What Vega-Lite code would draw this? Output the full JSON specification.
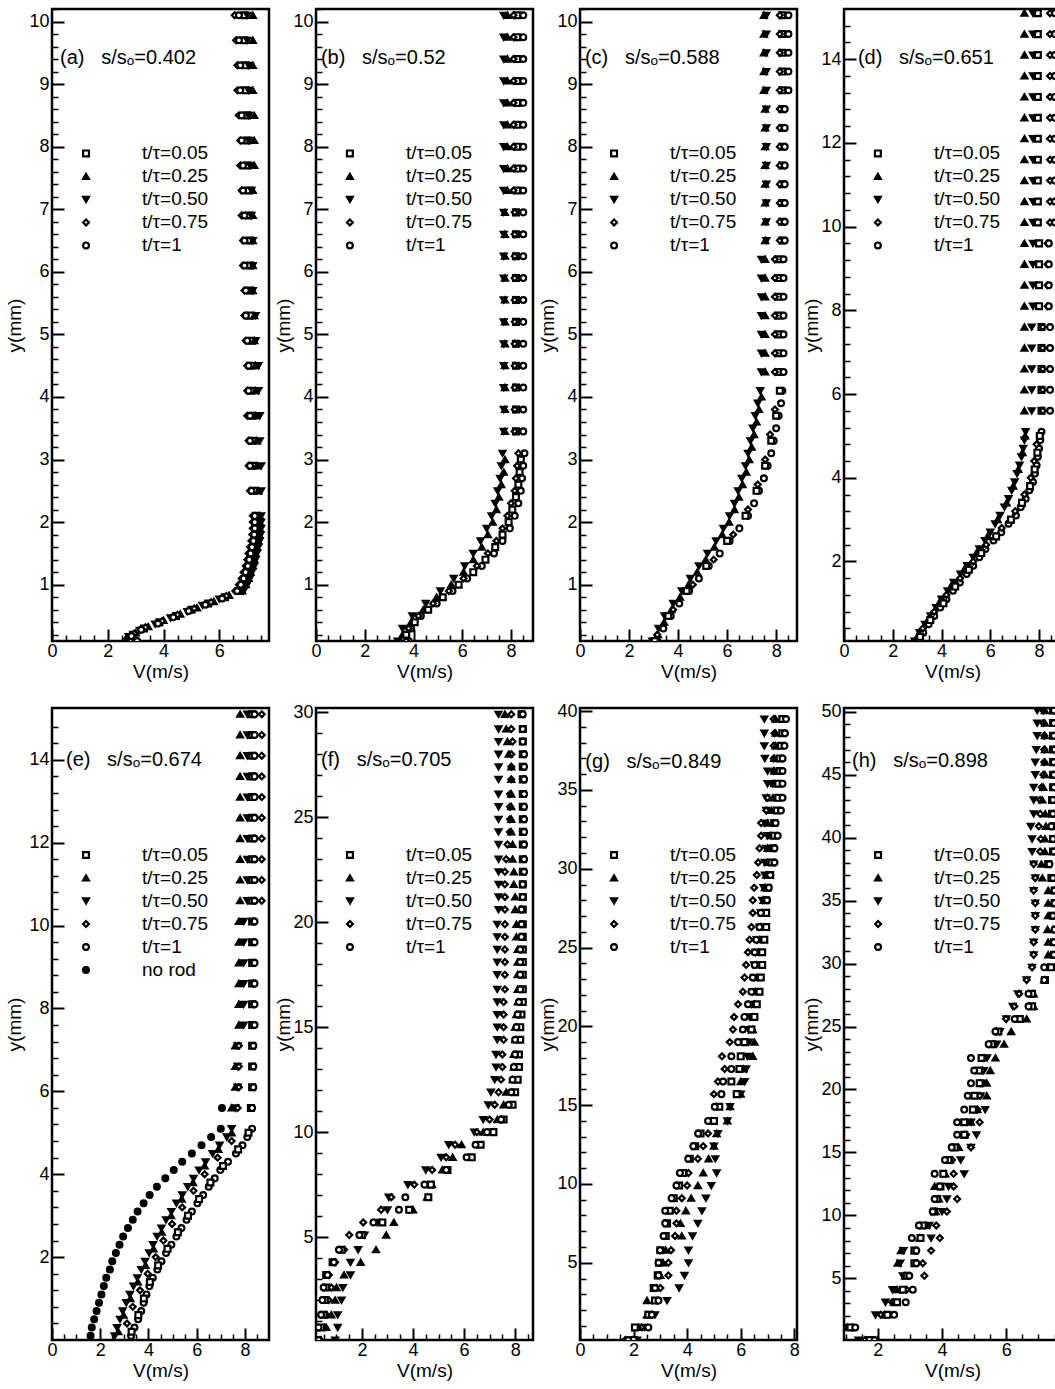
{
"$schema":"https://vega.github.io/schema/vega-lite/v6.json",
"background":"white",
"padding":{"left":3,"top":7,"right":0,"bottom":0},
"columns":4,
"spacing":{"row":67,"column":47},
"bounds":"flush",
"config":{
 "font":"Liberation Sans",
 "view":{"stroke":"black","strokeWidth":2.5},
 "axis":{"domain":false,"grid":false,"labelFont":"Liberation Sans","labelFontSize":18,"labelColor":"black","tickColor":"black","titleFont":"Liberation Sans","titleFontSize":19,"titleFontWeight":"normal","titleColor":"black","labelFlush":false,"labelOverlap":false}
},
"resolve":{"scale":{"shape":"independent","fill":"independent","size":"independent"}},
"datasets":{
"lg":[{"s":1,"t":"t/τ=0.05"},{"s":2,"t":"t/τ=0.25"},{"s":3,"t":"t/τ=0.50"},{"s":4,"t":"t/τ=0.75"},{"s":5,"t":"t/τ=1"},{"s":6,"t":"no rod"}],
"a":[
{"s":1,"v":6.9,"y":10.1},{"s":2,"v":7.2,"y":10.1},{"s":3,"v":7.0,"y":10.1},{"s":4,"v":6.55,"y":10.1},{"s":5,"v":6.7,"y":10.1},
{"s":1,"v":6.9,"y":9.7},{"s":2,"v":7.2,"y":9.7},{"s":3,"v":7.0,"y":9.7},{"s":4,"v":6.6,"y":9.7},{"s":5,"v":6.7,"y":9.7},
{"s":1,"v":6.95,"y":9.3},{"s":2,"v":7.2,"y":9.3},{"s":3,"v":7.05,"y":9.3},{"s":4,"v":6.65,"y":9.3},{"s":5,"v":6.75,"y":9.3},
{"s":1,"v":6.95,"y":8.9},{"s":2,"v":7.2,"y":8.9},{"s":3,"v":7.05,"y":8.9},{"s":4,"v":6.65,"y":8.9},{"s":5,"v":6.75,"y":8.9},
{"s":1,"v":7.0,"y":8.5},{"s":2,"v":7.25,"y":8.5},{"s":3,"v":7.05,"y":8.5},{"s":4,"v":6.7,"y":8.5},{"s":5,"v":6.8,"y":8.5},
{"s":1,"v":7.0,"y":8.1},{"s":2,"v":7.25,"y":8.1},{"s":3,"v":7.05,"y":8.1},{"s":4,"v":6.75,"y":8.1},{"s":5,"v":6.8,"y":8.1},
{"s":1,"v":7.0,"y":7.7},{"s":2,"v":7.25,"y":7.7},{"s":3,"v":7.1,"y":7.7},{"s":4,"v":6.75,"y":7.7},{"s":5,"v":6.85,"y":7.7},
{"s":1,"v":7.05,"y":7.3},{"s":2,"v":7.2,"y":7.3},{"s":3,"v":7.15,"y":7.3},{"s":4,"v":6.8,"y":7.3},{"s":5,"v":6.85,"y":7.3},
{"s":1,"v":7.05,"y":6.9},{"s":2,"v":7.2,"y":6.9},{"s":3,"v":7.15,"y":6.9},{"s":4,"v":6.8,"y":6.9},{"s":5,"v":6.9,"y":6.9},
{"s":1,"v":7.1,"y":6.5},{"s":2,"v":7.2,"y":6.5},{"s":3,"v":7.2,"y":6.5},{"s":4,"v":6.85,"y":6.5},{"s":5,"v":6.9,"y":6.5},
{"s":1,"v":7.1,"y":6.1},{"s":2,"v":7.2,"y":6.1},{"s":3,"v":7.2,"y":6.1},{"s":4,"v":6.85,"y":6.1},{"s":5,"v":6.9,"y":6.1},
{"s":1,"v":7.1,"y":5.7},{"s":2,"v":7.2,"y":5.7},{"s":3,"v":7.2,"y":5.7},{"s":4,"v":6.9,"y":5.7},{"s":5,"v":6.95,"y":5.7},
{"s":1,"v":7.1,"y":5.3},{"s":2,"v":7.25,"y":5.3},{"s":3,"v":7.3,"y":5.3},{"s":4,"v":6.9,"y":5.3},{"s":5,"v":6.95,"y":5.3},
{"s":1,"v":7.15,"y":4.9},{"s":2,"v":7.25,"y":4.9},{"s":3,"v":7.3,"y":4.9},{"s":4,"v":6.95,"y":4.9},{"s":5,"v":7.0,"y":4.9},
{"s":1,"v":7.15,"y":4.5},{"s":2,"v":7.3,"y":4.5},{"s":3,"v":7.4,"y":4.5},{"s":4,"v":7.0,"y":4.5},{"s":5,"v":7.05,"y":4.5},
{"s":1,"v":7.15,"y":4.1},{"s":2,"v":7.3,"y":4.1},{"s":3,"v":7.4,"y":4.1},{"s":4,"v":7.0,"y":4.1},{"s":5,"v":7.05,"y":4.1},
{"s":1,"v":7.2,"y":3.7},{"s":2,"v":7.3,"y":3.7},{"s":3,"v":7.45,"y":3.7},{"s":4,"v":7.0,"y":3.7},{"s":5,"v":7.1,"y":3.7},
{"s":1,"v":7.2,"y":3.3},{"s":2,"v":7.35,"y":3.3},{"s":3,"v":7.45,"y":3.3},{"s":4,"v":7.05,"y":3.3},{"s":5,"v":7.1,"y":3.3},
{"s":1,"v":7.2,"y":2.9},{"s":2,"v":7.35,"y":2.9},{"s":3,"v":7.5,"y":2.9},{"s":4,"v":7.05,"y":2.9},{"s":5,"v":7.1,"y":2.9},
{"s":1,"v":7.25,"y":2.5},{"s":2,"v":7.4,"y":2.5},{"s":3,"v":7.5,"y":2.5},{"s":4,"v":7.1,"y":2.5},{"s":5,"v":7.15,"y":2.5},
{"s":1,"v":7.35,"y":2.1},{"s":2,"v":7.45,"y":2.1},{"s":3,"v":7.5,"y":2.1},{"s":4,"v":7.2,"y":2.1},{"s":5,"v":7.27,"y":2.1},
{"s":1,"v":7.35,"y":2.0},{"s":2,"v":7.45,"y":2.0},{"s":3,"v":7.5,"y":2.0},{"s":4,"v":7.2,"y":2.0},{"s":5,"v":7.27,"y":2.0},
{"s":1,"v":7.35,"y":1.9},{"s":2,"v":7.45,"y":1.9},{"s":3,"v":7.5,"y":1.9},{"s":4,"v":7.2,"y":1.9},{"s":5,"v":7.27,"y":1.9},
{"s":1,"v":7.33,"y":1.8},{"s":2,"v":7.43,"y":1.8},{"s":3,"v":7.48,"y":1.8},{"s":4,"v":7.18,"y":1.8},{"s":5,"v":7.25,"y":1.8},
{"s":1,"v":7.3,"y":1.7},{"s":2,"v":7.4,"y":1.7},{"s":3,"v":7.45,"y":1.7},{"s":4,"v":7.15,"y":1.7},{"s":5,"v":7.22,"y":1.7},
{"s":1,"v":7.25,"y":1.6},{"s":2,"v":7.35,"y":1.6},{"s":3,"v":7.4,"y":1.6},{"s":4,"v":7.1,"y":1.6},{"s":5,"v":7.17,"y":1.6},
{"s":1,"v":7.2,"y":1.5},{"s":2,"v":7.3,"y":1.5},{"s":3,"v":7.35,"y":1.5},{"s":4,"v":7.05,"y":1.5},{"s":5,"v":7.12,"y":1.5},
{"s":1,"v":7.15,"y":1.4},{"s":2,"v":7.25,"y":1.4},{"s":3,"v":7.3,"y":1.4},{"s":4,"v":7.0,"y":1.4},{"s":5,"v":7.07,"y":1.4},
{"s":1,"v":7.1,"y":1.3},{"s":2,"v":7.2,"y":1.3},{"s":3,"v":7.25,"y":1.3},{"s":4,"v":6.95,"y":1.3},{"s":5,"v":7.02,"y":1.3},
{"s":1,"v":7.02,"y":1.2},{"s":2,"v":7.12,"y":1.2},{"s":3,"v":7.17,"y":1.2},{"s":4,"v":6.87,"y":1.2},{"s":5,"v":6.94,"y":1.2},
{"s":1,"v":6.95,"y":1.1},{"s":2,"v":7.05,"y":1.1},{"s":3,"v":7.1,"y":1.1},{"s":4,"v":6.8,"y":1.1},{"s":5,"v":6.87,"y":1.1},
{"s":1,"v":6.85,"y":1.0},{"s":2,"v":6.95,"y":1.0},{"s":3,"v":7.0,"y":1.0},{"s":4,"v":6.7,"y":1.0},{"s":5,"v":6.77,"y":1.0},
{"s":1,"v":6.72,"y":0.9},{"s":2,"v":6.82,"y":0.9},{"s":3,"v":6.87,"y":0.9},{"s":4,"v":6.57,"y":0.9},{"s":5,"v":6.64,"y":0.9},
{"s":1,"v":6.2,"y":0.8},{"s":1,"v":5.6,"y":0.7},{"s":1,"v":5.0,"y":0.6},{"s":1,"v":4.45,"y":0.5},{"s":1,"v":3.85,"y":0.4},{"s":1,"v":3.3,"y":0.3},{"s":1,"v":2.9,"y":0.2},{"s":1,"v":2.8,"y":0.12},
{"s":2,"v":6.35,"y":0.83},{"s":2,"v":5.8,"y":0.73},{"s":2,"v":5.2,"y":0.63},{"s":2,"v":4.6,"y":0.53},{"s":2,"v":4.0,"y":0.43},{"s":2,"v":3.45,"y":0.33},{"s":2,"v":3.0,"y":0.23},{"s":2,"v":2.65,"y":0.14},
{"s":3,"v":6.0,"y":0.77},{"s":3,"v":5.4,"y":0.67},{"s":3,"v":4.85,"y":0.57},{"s":3,"v":4.25,"y":0.47},{"s":3,"v":3.7,"y":0.37},{"s":3,"v":3.15,"y":0.27},{"s":3,"v":2.75,"y":0.17},{"s":3,"v":2.95,"y":0.1},
{"s":4,"v":6.25,"y":0.82},{"s":4,"v":5.7,"y":0.72},{"s":4,"v":5.1,"y":0.62},{"s":4,"v":4.5,"y":0.52},{"s":4,"v":3.95,"y":0.42},{"s":4,"v":3.35,"y":0.32},{"s":4,"v":2.95,"y":0.22},{"s":4,"v":3.0,"y":0.12},
{"s":5,"v":6.1,"y":0.78},{"s":5,"v":5.5,"y":0.68},{"s":5,"v":4.9,"y":0.58},{"s":5,"v":4.35,"y":0.48},{"s":5,"v":3.8,"y":0.38},{"s":5,"v":3.2,"y":0.28},{"s":5,"v":2.85,"y":0.18},{"s":5,"v":3.05,"y":0.1}
],
"b":[
{"s":1,"v":8.25,"y":10.1},{"s":2,"v":7.85,"y":10.1},{"s":3,"v":7.7,"y":10.1},{"s":4,"v":8.1,"y":10.1},{"s":5,"v":8.5,"y":10.1},
{"s":1,"v":8.25,"y":9.75},{"s":2,"v":7.85,"y":9.75},{"s":3,"v":7.7,"y":9.75},{"s":4,"v":8.1,"y":9.75},{"s":5,"v":8.5,"y":9.75},
{"s":1,"v":8.25,"y":9.4},{"s":2,"v":7.85,"y":9.4},{"s":3,"v":7.7,"y":9.4},{"s":4,"v":8.1,"y":9.4},{"s":5,"v":8.5,"y":9.4},
{"s":1,"v":8.25,"y":9.05},{"s":2,"v":7.85,"y":9.05},{"s":3,"v":7.7,"y":9.05},{"s":4,"v":8.1,"y":9.05},{"s":5,"v":8.5,"y":9.05},
{"s":1,"v":8.25,"y":8.7},{"s":2,"v":7.85,"y":8.7},{"s":3,"v":7.7,"y":8.7},{"s":4,"v":8.1,"y":8.7},{"s":5,"v":8.5,"y":8.7},
{"s":1,"v":8.25,"y":8.35},{"s":2,"v":7.85,"y":8.35},{"s":3,"v":7.7,"y":8.35},{"s":4,"v":8.1,"y":8.35},{"s":5,"v":8.5,"y":8.35},
{"s":1,"v":8.25,"y":8.0},{"s":2,"v":7.85,"y":8.0},{"s":3,"v":7.7,"y":8.0},{"s":4,"v":8.1,"y":8.0},{"s":5,"v":8.5,"y":8.0},
{"s":1,"v":8.25,"y":7.65},{"s":2,"v":7.85,"y":7.65},{"s":3,"v":7.7,"y":7.65},{"s":4,"v":8.1,"y":7.65},{"s":5,"v":8.5,"y":7.65},
{"s":1,"v":8.25,"y":7.3},{"s":2,"v":7.85,"y":7.3},{"s":3,"v":7.7,"y":7.3},{"s":4,"v":8.1,"y":7.3},{"s":5,"v":8.5,"y":7.3},
{"s":1,"v":8.2,"y":6.95},{"s":2,"v":7.75,"y":6.95},{"s":3,"v":7.7,"y":6.95},{"s":4,"v":8.15,"y":6.95},{"s":5,"v":8.5,"y":6.95},
{"s":1,"v":8.2,"y":6.6},{"s":2,"v":7.75,"y":6.6},{"s":3,"v":7.7,"y":6.6},{"s":4,"v":8.15,"y":6.6},{"s":5,"v":8.5,"y":6.6},
{"s":1,"v":8.2,"y":6.25},{"s":2,"v":7.75,"y":6.25},{"s":3,"v":7.7,"y":6.25},{"s":4,"v":8.15,"y":6.25},{"s":5,"v":8.5,"y":6.25},
{"s":1,"v":8.2,"y":5.9},{"s":2,"v":7.75,"y":5.9},{"s":3,"v":7.7,"y":5.9},{"s":4,"v":8.15,"y":5.9},{"s":5,"v":8.5,"y":5.9},
{"s":1,"v":8.2,"y":5.55},{"s":2,"v":7.75,"y":5.55},{"s":3,"v":7.7,"y":5.55},{"s":4,"v":8.15,"y":5.55},{"s":5,"v":8.5,"y":5.55},
{"s":1,"v":8.2,"y":5.2},{"s":2,"v":7.75,"y":5.2},{"s":3,"v":7.7,"y":5.2},{"s":4,"v":8.15,"y":5.2},{"s":5,"v":8.5,"y":5.2},
{"s":1,"v":8.2,"y":4.85},{"s":2,"v":7.75,"y":4.85},{"s":3,"v":7.7,"y":4.85},{"s":4,"v":8.15,"y":4.85},{"s":5,"v":8.5,"y":4.85},
{"s":1,"v":8.2,"y":4.5},{"s":2,"v":7.75,"y":4.5},{"s":3,"v":7.7,"y":4.5},{"s":4,"v":8.15,"y":4.5},{"s":5,"v":8.5,"y":4.5},
{"s":1,"v":8.2,"y":4.15},{"s":2,"v":7.75,"y":4.15},{"s":3,"v":7.7,"y":4.15},{"s":4,"v":8.15,"y":4.15},{"s":5,"v":8.5,"y":4.15},
{"s":1,"v":8.2,"y":3.8},{"s":2,"v":7.75,"y":3.8},{"s":3,"v":7.7,"y":3.8},{"s":4,"v":8.15,"y":3.8},{"s":5,"v":8.5,"y":3.8},
{"s":1,"v":8.2,"y":3.45},{"s":2,"v":7.75,"y":3.45},{"s":3,"v":7.7,"y":3.45},{"s":4,"v":8.15,"y":3.45},{"s":5,"v":8.5,"y":3.45},
{"s":3,"v":7.65,"y":3.1},{"s":3,"v":7.6,"y":2.9},{"s":3,"v":7.55,"y":2.7},{"s":3,"v":7.45,"y":2.5},{"s":3,"v":7.35,"y":2.3},{"s":3,"v":7.2,"y":2.1},{"s":3,"v":7.0,"y":1.9},{"s":3,"v":6.75,"y":1.7},{"s":3,"v":6.45,"y":1.5},{"s":3,"v":6.1,"y":1.3},{"s":3,"v":5.65,"y":1.1},{"s":3,"v":5.1,"y":0.9},{"s":3,"v":4.5,"y":0.7},{"s":3,"v":3.95,"y":0.5},{"s":3,"v":3.55,"y":0.3},{"s":3,"v":3.35,"y":0.1},
{"s":5,"v":8.55,"y":3.1},{"s":5,"v":8.5,"y":2.9},{"s":5,"v":8.45,"y":2.7},{"s":5,"v":8.4,"y":2.5},{"s":5,"v":8.3,"y":2.3},{"s":5,"v":8.15,"y":2.1},{"s":5,"v":7.95,"y":1.9},{"s":5,"v":7.65,"y":1.7},{"s":5,"v":7.3,"y":1.5},{"s":5,"v":6.8,"y":1.3},{"s":5,"v":6.2,"y":1.1},{"s":5,"v":5.6,"y":0.9},{"s":5,"v":4.95,"y":0.7},{"s":5,"v":4.3,"y":0.5},{"s":5,"v":3.9,"y":0.3},{"s":5,"v":3.8,"y":0.1},
{"s":4,"v":8.3,"y":3.1},{"s":4,"v":8.25,"y":2.9},{"s":4,"v":8.2,"y":2.7},{"s":4,"v":8.15,"y":2.5},{"s":4,"v":8.0,"y":2.3},{"s":4,"v":7.85,"y":2.1},{"s":4,"v":7.65,"y":1.9},{"s":4,"v":7.4,"y":1.7},{"s":4,"v":7.05,"y":1.5},{"s":4,"v":6.6,"y":1.3},{"s":4,"v":6.05,"y":1.1},{"s":4,"v":5.45,"y":0.9},{"s":4,"v":4.8,"y":0.7},{"s":4,"v":4.2,"y":0.5},{"s":4,"v":3.8,"y":0.3},{"s":4,"v":3.7,"y":0.1},
{"s":2,"v":7.75,"y":3.0},{"s":2,"v":7.7,"y":2.8},{"s":2,"v":7.6,"y":2.6},{"s":2,"v":7.5,"y":2.4},{"s":2,"v":7.4,"y":2.2},{"s":2,"v":7.25,"y":2.0},{"s":2,"v":7.05,"y":1.8},{"s":2,"v":6.8,"y":1.6},{"s":2,"v":6.45,"y":1.4},{"s":2,"v":6.05,"y":1.2},{"s":2,"v":5.55,"y":1.0},{"s":2,"v":4.95,"y":0.8},{"s":2,"v":4.4,"y":0.6},{"s":2,"v":3.9,"y":0.4},{"s":2,"v":3.55,"y":0.2},
{"s":1,"v":8.4,"y":3.0},{"s":1,"v":8.35,"y":2.8},{"s":1,"v":8.3,"y":2.6},{"s":1,"v":8.2,"y":2.4},{"s":1,"v":8.05,"y":2.2},{"s":1,"v":7.9,"y":2.0},{"s":1,"v":7.65,"y":1.8},{"s":1,"v":7.35,"y":1.6},{"s":1,"v":6.95,"y":1.4},{"s":1,"v":6.45,"y":1.2},{"s":1,"v":5.85,"y":1.0},{"s":1,"v":5.2,"y":0.8},{"s":1,"v":4.6,"y":0.6},{"s":1,"v":4.05,"y":0.4},{"s":1,"v":3.7,"y":0.2}
],
"c":[
{"s":1,"v":8.25,"y":10.1},{"s":2,"v":7.5,"y":10.1},{"s":3,"v":7.6,"y":10.1},{"s":4,"v":8.15,"y":10.1},{"s":5,"v":8.5,"y":10.1},
{"s":1,"v":8.25,"y":9.8},{"s":2,"v":7.5,"y":9.8},{"s":3,"v":7.6,"y":9.8},{"s":4,"v":8.15,"y":9.8},{"s":5,"v":8.5,"y":9.8},
{"s":1,"v":8.25,"y":9.5},{"s":2,"v":7.5,"y":9.5},{"s":3,"v":7.6,"y":9.5},{"s":4,"v":8.15,"y":9.5},{"s":5,"v":8.5,"y":9.5},
{"s":1,"v":8.25,"y":9.2},{"s":2,"v":7.5,"y":9.2},{"s":3,"v":7.6,"y":9.2},{"s":4,"v":8.15,"y":9.2},{"s":5,"v":8.5,"y":9.2},
{"s":1,"v":8.25,"y":8.9},{"s":2,"v":7.5,"y":8.9},{"s":3,"v":7.6,"y":8.9},{"s":4,"v":8.15,"y":8.9},{"s":5,"v":8.5,"y":8.9},
{"s":1,"v":8.25,"y":8.6},{"s":2,"v":7.55,"y":8.6},{"s":3,"v":7.6,"y":8.6},{"s":4,"v":8.15,"y":8.6},{"s":5,"v":8.35,"y":8.6},
{"s":1,"v":8.25,"y":8.3},{"s":2,"v":7.55,"y":8.3},{"s":3,"v":7.6,"y":8.3},{"s":4,"v":8.15,"y":8.3},{"s":5,"v":8.35,"y":8.3},
{"s":1,"v":8.25,"y":8.0},{"s":2,"v":7.55,"y":8.0},{"s":3,"v":7.6,"y":8.0},{"s":4,"v":8.15,"y":8.0},{"s":5,"v":8.35,"y":8.0},
{"s":1,"v":8.25,"y":7.7},{"s":2,"v":7.55,"y":7.7},{"s":3,"v":7.6,"y":7.7},{"s":4,"v":8.15,"y":7.7},{"s":5,"v":8.35,"y":7.7},
{"s":1,"v":8.25,"y":7.4},{"s":2,"v":7.55,"y":7.4},{"s":3,"v":7.6,"y":7.4},{"s":4,"v":8.15,"y":7.4},{"s":5,"v":8.35,"y":7.4},
{"s":1,"v":8.25,"y":7.1},{"s":2,"v":7.55,"y":7.1},{"s":3,"v":7.6,"y":7.1},{"s":4,"v":8.15,"y":7.1},{"s":5,"v":8.35,"y":7.1},
{"s":1,"v":8.25,"y":6.8},{"s":2,"v":7.55,"y":6.8},{"s":3,"v":7.6,"y":6.8},{"s":4,"v":8.15,"y":6.8},{"s":5,"v":8.35,"y":6.8},
{"s":1,"v":8.25,"y":6.5},{"s":2,"v":7.55,"y":6.5},{"s":3,"v":7.6,"y":6.5},{"s":4,"v":8.15,"y":6.5},{"s":5,"v":8.35,"y":6.5},
{"s":1,"v":8.1,"y":6.2},{"s":2,"v":7.55,"y":6.2},{"s":3,"v":7.4,"y":6.2},{"s":4,"v":7.95,"y":6.2},{"s":5,"v":8.3,"y":6.2},
{"s":1,"v":8.1,"y":5.9},{"s":2,"v":7.55,"y":5.9},{"s":3,"v":7.4,"y":5.9},{"s":4,"v":7.95,"y":5.9},{"s":5,"v":8.3,"y":5.9},
{"s":1,"v":8.1,"y":5.6},{"s":2,"v":7.55,"y":5.6},{"s":3,"v":7.4,"y":5.6},{"s":4,"v":7.95,"y":5.6},{"s":5,"v":8.3,"y":5.6},
{"s":1,"v":8.1,"y":5.3},{"s":2,"v":7.55,"y":5.3},{"s":3,"v":7.4,"y":5.3},{"s":4,"v":7.95,"y":5.3},{"s":5,"v":8.3,"y":5.3},
{"s":1,"v":8.1,"y":5.0},{"s":2,"v":7.55,"y":5.0},{"s":3,"v":7.4,"y":5.0},{"s":4,"v":7.95,"y":5.0},{"s":5,"v":8.3,"y":5.0},
{"s":1,"v":8.1,"y":4.7},{"s":2,"v":7.55,"y":4.7},{"s":3,"v":7.4,"y":4.7},{"s":4,"v":7.95,"y":4.7},{"s":5,"v":8.3,"y":4.7},
{"s":1,"v":8.1,"y":4.4},{"s":2,"v":7.55,"y":4.4},{"s":3,"v":7.4,"y":4.4},{"s":4,"v":7.95,"y":4.4},{"s":5,"v":8.3,"y":4.4},
{"s":3,"v":7.35,"y":4.1},{"s":3,"v":7.25,"y":3.9},{"s":3,"v":7.15,"y":3.7},{"s":3,"v":7.05,"y":3.5},{"s":3,"v":6.95,"y":3.3},{"s":3,"v":6.85,"y":3.1},{"s":3,"v":6.75,"y":2.9},{"s":3,"v":6.6,"y":2.7},{"s":3,"v":6.45,"y":2.5},{"s":3,"v":6.3,"y":2.3},{"s":3,"v":6.1,"y":2.1},{"s":3,"v":5.85,"y":1.9},{"s":3,"v":5.55,"y":1.7},{"s":3,"v":5.2,"y":1.5},{"s":3,"v":4.85,"y":1.3},{"s":3,"v":4.5,"y":1.1},{"s":3,"v":4.15,"y":0.9},{"s":3,"v":3.8,"y":0.7},{"s":3,"v":3.45,"y":0.5},{"s":3,"v":3.2,"y":0.3},{"s":3,"v":2.95,"y":0.1},
{"s":5,"v":8.25,"y":4.1},{"s":5,"v":8.2,"y":3.9},{"s":5,"v":8.1,"y":3.7},{"s":5,"v":8.0,"y":3.5},{"s":5,"v":7.9,"y":3.3},{"s":5,"v":7.8,"y":3.1},{"s":5,"v":7.65,"y":2.9},{"s":5,"v":7.5,"y":2.7},{"s":5,"v":7.3,"y":2.5},{"s":5,"v":7.1,"y":2.3},{"s":5,"v":6.85,"y":2.1},{"s":5,"v":6.5,"y":1.9},{"s":5,"v":6.1,"y":1.7},{"s":5,"v":5.7,"y":1.5},{"s":5,"v":5.25,"y":1.3},{"s":5,"v":4.85,"y":1.1},{"s":5,"v":4.45,"y":0.9},{"s":5,"v":4.05,"y":0.7},{"s":5,"v":3.7,"y":0.5},{"s":5,"v":3.4,"y":0.3},{"s":5,"v":3.15,"y":0.1},
{"s":2,"v":7.4,"y":4.0},{"s":2,"v":7.3,"y":3.8},{"s":2,"v":7.2,"y":3.6},{"s":2,"v":7.1,"y":3.4},{"s":2,"v":7.0,"y":3.2},{"s":2,"v":6.9,"y":3.0},{"s":2,"v":6.78,"y":2.8},{"s":2,"v":6.63,"y":2.6},{"s":2,"v":6.48,"y":2.4},{"s":2,"v":6.3,"y":2.2},{"s":2,"v":6.08,"y":2.0},{"s":2,"v":5.8,"y":1.8},{"s":2,"v":5.48,"y":1.6},{"s":2,"v":5.13,"y":1.4},{"s":2,"v":4.78,"y":1.2},{"s":2,"v":4.43,"y":1.0},{"s":2,"v":4.08,"y":0.8},{"s":2,"v":3.73,"y":0.6},{"s":2,"v":3.43,"y":0.4},{"s":2,"v":3.18,"y":0.2},
{"s":1,"v":8.15,"y":4.1},{"s":1,"v":8.0,"y":3.7},{"s":1,"v":7.8,"y":3.3},{"s":1,"v":7.55,"y":2.9},{"s":1,"v":7.2,"y":2.5},{"s":1,"v":6.75,"y":2.1},{"s":1,"v":6.0,"y":1.7},{"s":1,"v":5.15,"y":1.3},{"s":1,"v":4.35,"y":0.9},{"s":1,"v":3.6,"y":0.5},{"s":1,"v":3.05,"y":0.1},
{"s":4,"v":7.95,"y":3.8},{"s":4,"v":7.75,"y":3.4},{"s":4,"v":7.55,"y":3.0},{"s":4,"v":7.25,"y":2.6},{"s":4,"v":6.85,"y":2.2},{"s":4,"v":6.25,"y":1.8},{"s":4,"v":5.45,"y":1.4},{"s":4,"v":4.6,"y":1.0},{"s":4,"v":3.8,"y":0.6},{"s":4,"v":3.15,"y":0.2}
],
"d":[
{"s":1,"v":7.95,"y":15.1},{"s":2,"v":7.4,"y":15.1},{"s":3,"v":7.75,"y":15.1},{"s":4,"v":8.45,"y":15.1},{"s":5,"v":8.65,"y":15.1},
{"s":1,"v":7.95,"y":14.6},{"s":2,"v":7.4,"y":14.6},{"s":3,"v":7.75,"y":14.6},{"s":4,"v":8.45,"y":14.6},{"s":5,"v":8.65,"y":14.6},
{"s":1,"v":7.95,"y":14.1},{"s":2,"v":7.4,"y":14.1},{"s":3,"v":7.75,"y":14.1},{"s":4,"v":8.45,"y":14.1},{"s":5,"v":8.65,"y":14.1},
{"s":1,"v":7.95,"y":13.6},{"s":2,"v":7.4,"y":13.6},{"s":3,"v":7.75,"y":13.6},{"s":4,"v":8.45,"y":13.6},{"s":5,"v":8.65,"y":13.6},
{"s":1,"v":7.95,"y":13.1},{"s":2,"v":7.4,"y":13.1},{"s":3,"v":7.75,"y":13.1},{"s":4,"v":8.45,"y":13.1},{"s":5,"v":8.65,"y":13.1},
{"s":1,"v":7.95,"y":12.6},{"s":2,"v":7.4,"y":12.6},{"s":3,"v":7.75,"y":12.6},{"s":4,"v":8.45,"y":12.6},{"s":5,"v":8.65,"y":12.6},
{"s":1,"v":7.95,"y":12.1},{"s":2,"v":7.4,"y":12.1},{"s":3,"v":7.75,"y":12.1},{"s":4,"v":8.45,"y":12.1},{"s":5,"v":8.65,"y":12.1},
{"s":1,"v":7.95,"y":11.6},{"s":2,"v":7.4,"y":11.6},{"s":3,"v":7.75,"y":11.6},{"s":4,"v":8.45,"y":11.6},{"s":5,"v":8.65,"y":11.6},
{"s":1,"v":7.95,"y":11.1},{"s":2,"v":7.4,"y":11.1},{"s":3,"v":7.75,"y":11.1},{"s":4,"v":8.45,"y":11.1},{"s":5,"v":8.65,"y":11.1},
{"s":1,"v":7.95,"y":10.6},{"s":2,"v":7.4,"y":10.6},{"s":3,"v":7.75,"y":10.6},{"s":4,"v":8.45,"y":10.6},{"s":5,"v":8.65,"y":10.6},
{"s":1,"v":7.95,"y":10.1},{"s":2,"v":7.4,"y":10.1},{"s":3,"v":7.75,"y":10.1},{"s":4,"v":8.45,"y":10.1},{"s":5,"v":8.65,"y":10.1},
{"s":1,"v":8.0,"y":9.6},{"s":2,"v":7.4,"y":9.6},{"s":3,"v":7.75,"y":9.6},{"s":4,"v":8.35,"y":9.6},{"s":5,"v":8.4,"y":9.6},
{"s":1,"v":8.0,"y":9.1},{"s":2,"v":7.4,"y":9.1},{"s":3,"v":7.75,"y":9.1},{"s":4,"v":8.35,"y":9.1},{"s":5,"v":8.4,"y":9.1},
{"s":1,"v":8.0,"y":8.6},{"s":2,"v":7.4,"y":8.6},{"s":3,"v":7.75,"y":8.6},{"s":4,"v":8.35,"y":8.6},{"s":5,"v":8.4,"y":8.6},
{"s":1,"v":8.0,"y":8.1},{"s":2,"v":7.4,"y":8.1},{"s":3,"v":7.75,"y":8.1},{"s":4,"v":8.35,"y":8.1},{"s":5,"v":8.4,"y":8.1},
{"s":1,"v":8.1,"y":7.6},{"s":2,"v":7.4,"y":7.6},{"s":3,"v":7.7,"y":7.6},{"s":4,"v":8.15,"y":7.6},{"s":5,"v":8.45,"y":7.6},
{"s":1,"v":8.1,"y":7.1},{"s":2,"v":7.4,"y":7.1},{"s":3,"v":7.7,"y":7.1},{"s":4,"v":8.15,"y":7.1},{"s":5,"v":8.45,"y":7.1},
{"s":1,"v":8.1,"y":6.6},{"s":2,"v":7.4,"y":6.6},{"s":3,"v":7.7,"y":6.6},{"s":4,"v":8.15,"y":6.6},{"s":5,"v":8.45,"y":6.6},
{"s":1,"v":8.1,"y":6.1},{"s":2,"v":7.4,"y":6.1},{"s":3,"v":7.7,"y":6.1},{"s":4,"v":8.15,"y":6.1},{"s":5,"v":8.45,"y":6.1},
{"s":1,"v":8.1,"y":5.6},{"s":2,"v":7.4,"y":5.6},{"s":3,"v":7.7,"y":5.6},{"s":4,"v":8.15,"y":5.6},{"s":5,"v":8.45,"y":5.6},
{"s":3,"v":7.45,"y":5.1},{"s":3,"v":7.4,"y":4.9},{"s":3,"v":7.35,"y":4.7},{"s":3,"v":7.28,"y":4.5},{"s":3,"v":7.2,"y":4.3},{"s":3,"v":7.1,"y":4.1},{"s":3,"v":7.0,"y":3.9},{"s":3,"v":6.88,"y":3.7},{"s":3,"v":6.75,"y":3.5},{"s":3,"v":6.58,"y":3.3},{"s":3,"v":6.4,"y":3.1},{"s":3,"v":6.2,"y":2.9},{"s":3,"v":6.0,"y":2.7},{"s":3,"v":5.78,"y":2.5},{"s":3,"v":5.55,"y":2.3},{"s":3,"v":5.3,"y":2.1},{"s":3,"v":5.05,"y":1.9},{"s":3,"v":4.78,"y":1.7},{"s":3,"v":4.5,"y":1.5},{"s":3,"v":4.25,"y":1.3},{"s":3,"v":4.0,"y":1.1},{"s":3,"v":3.78,"y":0.9},{"s":3,"v":3.55,"y":0.7},{"s":3,"v":3.32,"y":0.5},{"s":3,"v":3.1,"y":0.3},{"s":3,"v":2.9,"y":0.1},
{"s":5,"v":8.1,"y":5.1},{"s":5,"v":8.05,"y":4.9},{"s":5,"v":8.0,"y":4.7},{"s":5,"v":7.95,"y":4.5},{"s":5,"v":7.9,"y":4.3},{"s":5,"v":7.83,"y":4.1},{"s":5,"v":7.75,"y":3.9},{"s":5,"v":7.6,"y":3.7},{"s":5,"v":7.45,"y":3.5},{"s":5,"v":7.25,"y":3.3},{"s":5,"v":7.05,"y":3.1},{"s":5,"v":6.75,"y":2.9},{"s":5,"v":6.45,"y":2.7},{"s":5,"v":6.13,"y":2.5},{"s":5,"v":5.8,"y":2.3},{"s":5,"v":5.55,"y":2.1},{"s":5,"v":5.3,"y":1.9},{"s":5,"v":5.03,"y":1.7},{"s":5,"v":4.75,"y":1.5},{"s":5,"v":4.47,"y":1.3},{"s":5,"v":4.2,"y":1.1},{"s":5,"v":3.95,"y":0.9},{"s":5,"v":3.7,"y":0.7},{"s":5,"v":3.47,"y":0.5},{"s":5,"v":3.25,"y":0.3},{"s":5,"v":3.1,"y":0.1},
{"s":2,"v":7.43,"y":5.0},{"s":2,"v":7.32,"y":4.6},{"s":2,"v":7.15,"y":4.2},{"s":2,"v":6.94,"y":3.8},{"s":2,"v":6.67,"y":3.4},{"s":2,"v":6.3,"y":3.0},{"s":2,"v":5.89,"y":2.6},{"s":2,"v":5.43,"y":2.2},{"s":2,"v":4.92,"y":1.8},{"s":2,"v":4.38,"y":1.4},{"s":2,"v":3.89,"y":1.0},{"s":2,"v":3.44,"y":0.6},{"s":2,"v":3.0,"y":0.2},
{"s":1,"v":8.03,"y":5.0},{"s":1,"v":7.93,"y":4.6},{"s":1,"v":7.82,"y":4.2},{"s":1,"v":7.63,"y":3.8},{"s":1,"v":7.3,"y":3.4},{"s":1,"v":6.85,"y":3.0},{"s":1,"v":6.24,"y":2.6},{"s":1,"v":5.63,"y":2.2},{"s":1,"v":5.12,"y":1.8},{"s":1,"v":4.56,"y":1.4},{"s":1,"v":4.08,"y":1.0},{"s":1,"v":3.54,"y":0.6},{"s":1,"v":3.12,"y":0.2},
{"s":4,"v":7.9,"y":4.8},{"s":4,"v":7.8,"y":4.4},{"s":4,"v":7.66,"y":4.0},{"s":4,"v":7.4,"y":3.6},{"s":4,"v":7.02,"y":3.2},{"s":4,"v":6.47,"y":2.8},{"s":4,"v":5.83,"y":2.4},{"s":4,"v":5.3,"y":2.0},{"s":4,"v":4.76,"y":1.6},{"s":4,"v":4.2,"y":1.2},{"s":4,"v":3.7,"y":0.8},{"s":4,"v":3.23,"y":0.4}
],
"e":[
{"s":1,"v":8.3,"y":15.1},{"s":2,"v":7.8,"y":15.1},{"s":3,"v":8.1,"y":15.1},{"s":4,"v":8.7,"y":15.1},{"s":5,"v":8.4,"y":15.1},
{"s":1,"v":8.3,"y":14.6},{"s":2,"v":7.8,"y":14.6},{"s":3,"v":8.1,"y":14.6},{"s":4,"v":8.7,"y":14.6},{"s":5,"v":8.4,"y":14.6},
{"s":1,"v":8.3,"y":14.1},{"s":2,"v":7.8,"y":14.1},{"s":3,"v":8.1,"y":14.1},{"s":4,"v":8.7,"y":14.1},{"s":5,"v":8.4,"y":14.1},
{"s":1,"v":8.3,"y":13.6},{"s":2,"v":7.8,"y":13.6},{"s":3,"v":8.1,"y":13.6},{"s":4,"v":8.7,"y":13.6},{"s":5,"v":8.4,"y":13.6},
{"s":1,"v":8.3,"y":13.1},{"s":2,"v":7.8,"y":13.1},{"s":3,"v":8.1,"y":13.1},{"s":4,"v":8.7,"y":13.1},{"s":5,"v":8.4,"y":13.1},
{"s":1,"v":8.3,"y":12.6},{"s":2,"v":7.8,"y":12.6},{"s":3,"v":8.1,"y":12.6},{"s":4,"v":8.7,"y":12.6},{"s":5,"v":8.4,"y":12.6},
{"s":1,"v":8.3,"y":12.1},{"s":2,"v":7.8,"y":12.1},{"s":3,"v":8.1,"y":12.1},{"s":4,"v":8.7,"y":12.1},{"s":5,"v":8.4,"y":12.1},
{"s":1,"v":8.3,"y":11.6},{"s":2,"v":7.8,"y":11.6},{"s":3,"v":8.1,"y":11.6},{"s":4,"v":8.7,"y":11.6},{"s":5,"v":8.4,"y":11.6},
{"s":1,"v":8.3,"y":11.1},{"s":2,"v":7.8,"y":11.1},{"s":3,"v":8.1,"y":11.1},{"s":4,"v":8.7,"y":11.1},{"s":5,"v":8.4,"y":11.1},
{"s":1,"v":8.3,"y":10.6},{"s":2,"v":7.8,"y":10.6},{"s":3,"v":8.1,"y":10.6},{"s":4,"v":8.7,"y":10.6},{"s":5,"v":8.4,"y":10.6},
{"s":1,"v":8.3,"y":10.1},{"s":2,"v":7.75,"y":10.1},{"s":3,"v":7.95,"y":10.1},{"s":4,"v":8.35,"y":10.1},{"s":5,"v":8.4,"y":10.1},
{"s":1,"v":8.3,"y":9.6},{"s":2,"v":7.75,"y":9.6},{"s":3,"v":7.95,"y":9.6},{"s":4,"v":8.35,"y":9.6},{"s":5,"v":8.4,"y":9.6},
{"s":1,"v":8.3,"y":9.1},{"s":2,"v":7.75,"y":9.1},{"s":3,"v":7.95,"y":9.1},{"s":4,"v":8.35,"y":9.1},{"s":5,"v":8.4,"y":9.1},
{"s":1,"v":8.3,"y":8.6},{"s":2,"v":7.75,"y":8.6},{"s":3,"v":7.95,"y":8.6},{"s":4,"v":8.35,"y":8.6},{"s":5,"v":8.4,"y":8.6},
{"s":1,"v":8.3,"y":8.1},{"s":2,"v":7.75,"y":8.1},{"s":3,"v":7.95,"y":8.1},{"s":4,"v":8.35,"y":8.1},{"s":5,"v":8.4,"y":8.1},
{"s":1,"v":8.3,"y":7.6},{"s":2,"v":7.75,"y":7.6},{"s":3,"v":7.95,"y":7.6},{"s":4,"v":8.35,"y":7.6},{"s":5,"v":8.4,"y":7.6},
{"s":1,"v":8.3,"y":7.1},{"s":2,"v":7.6,"y":7.1},{"s":3,"v":7.7,"y":7.1},{"s":4,"v":7.75,"y":7.1},{"s":5,"v":8.35,"y":7.1},
{"s":1,"v":8.3,"y":6.6},{"s":2,"v":7.6,"y":6.6},{"s":3,"v":7.7,"y":6.6},{"s":4,"v":7.75,"y":6.6},{"s":5,"v":8.35,"y":6.6},
{"s":1,"v":8.3,"y":6.1},{"s":2,"v":7.6,"y":6.1},{"s":3,"v":7.7,"y":6.1},{"s":4,"v":7.75,"y":6.1},{"s":5,"v":8.35,"y":6.1},
{"s":1,"v":8.25,"y":5.6},{"s":2,"v":7.45,"y":5.6},{"s":3,"v":7.6,"y":5.6},{"s":4,"v":7.7,"y":5.6},{"s":5,"v":8.3,"y":5.6},{"s":6,"v":7.05,"y":5.6},
{"s":3,"v":7.45,"y":5.1},{"s":3,"v":7.25,"y":4.9},{"s":3,"v":6.95,"y":4.7},{"s":3,"v":6.66,"y":4.5},{"s":3,"v":6.37,"y":4.3},{"s":3,"v":6.1,"y":4.1},{"s":3,"v":5.87,"y":3.9},{"s":3,"v":5.63,"y":3.7},{"s":3,"v":5.4,"y":3.5},{"s":3,"v":5.16,"y":3.3},{"s":3,"v":4.95,"y":3.1},{"s":3,"v":4.73,"y":2.9},{"s":3,"v":4.54,"y":2.7},{"s":3,"v":4.36,"y":2.5},{"s":3,"v":4.19,"y":2.3},{"s":3,"v":4.03,"y":2.1},{"s":3,"v":3.86,"y":1.9},{"s":3,"v":3.7,"y":1.7},{"s":3,"v":3.54,"y":1.5},{"s":3,"v":3.38,"y":1.3},{"s":3,"v":3.23,"y":1.1},{"s":3,"v":3.08,"y":0.9},{"s":3,"v":2.93,"y":0.7},{"s":3,"v":2.82,"y":0.5},{"s":3,"v":2.7,"y":0.3},{"s":3,"v":2.6,"y":0.1},
{"s":5,"v":8.3,"y":5.1},{"s":5,"v":8.1,"y":4.9},{"s":5,"v":7.9,"y":4.7},{"s":5,"v":7.63,"y":4.5},{"s":5,"v":7.3,"y":4.3},{"s":5,"v":6.98,"y":4.1},{"s":5,"v":6.75,"y":3.9},{"s":5,"v":6.5,"y":3.7},{"s":5,"v":6.27,"y":3.5},{"s":5,"v":6.03,"y":3.3},{"s":5,"v":5.8,"y":3.1},{"s":5,"v":5.58,"y":2.9},{"s":5,"v":5.37,"y":2.7},{"s":5,"v":5.16,"y":2.5},{"s":5,"v":4.95,"y":2.3},{"s":5,"v":4.73,"y":2.1},{"s":5,"v":4.54,"y":1.9},{"s":5,"v":4.37,"y":1.7},{"s":5,"v":4.18,"y":1.5},{"s":5,"v":4.04,"y":1.3},{"s":5,"v":3.92,"y":1.1},{"s":5,"v":3.8,"y":0.9},{"s":5,"v":3.7,"y":0.7},{"s":5,"v":3.57,"y":0.5},{"s":5,"v":3.42,"y":0.3},{"s":5,"v":3.28,"y":0.1},
{"s":2,"v":7.45,"y":5.0},{"s":2,"v":6.9,"y":4.6},{"s":2,"v":6.33,"y":4.2},{"s":2,"v":5.85,"y":3.8},{"s":2,"v":5.38,"y":3.4},{"s":2,"v":4.94,"y":3.0},{"s":2,"v":4.55,"y":2.6},{"s":2,"v":4.21,"y":2.2},{"s":2,"v":3.88,"y":1.8},{"s":2,"v":3.56,"y":1.4},{"s":2,"v":3.25,"y":1.0},{"s":2,"v":2.97,"y":0.6},{"s":2,"v":2.75,"y":0.2},
{"s":4,"v":7.45,"y":4.8},{"s":4,"v":6.87,"y":4.4},{"s":4,"v":6.33,"y":4.0},{"s":4,"v":5.87,"y":3.6},{"s":4,"v":5.4,"y":3.2},{"s":4,"v":4.98,"y":2.8},{"s":4,"v":4.62,"y":2.4},{"s":4,"v":4.3,"y":2.0},{"s":4,"v":3.97,"y":1.6},{"s":4,"v":3.65,"y":1.2},{"s":4,"v":3.35,"y":0.8},{"s":4,"v":3.11,"y":0.4},
{"s":1,"v":8.15,"y":5.0},{"s":1,"v":7.72,"y":4.6},{"s":1,"v":7.09,"y":4.2},{"s":1,"v":6.57,"y":3.8},{"s":1,"v":6.1,"y":3.4},{"s":1,"v":5.64,"y":3.0},{"s":1,"v":5.22,"y":2.6},{"s":1,"v":4.79,"y":2.2},{"s":1,"v":4.4,"y":1.8},{"s":1,"v":4.06,"y":1.4},{"s":1,"v":3.81,"y":1.0},{"s":1,"v":3.58,"y":0.6},{"s":1,"v":3.3,"y":0.2},
{"s":6,"v":1.6,"y":0.1},{"s":6,"v":1.65,"y":0.3},{"s":6,"v":1.75,"y":0.5},{"s":6,"v":1.85,"y":0.7},{"s":6,"v":1.95,"y":0.9},{"s":6,"v":2.05,"y":1.1},{"s":6,"v":2.15,"y":1.3},{"s":6,"v":2.25,"y":1.5},{"s":6,"v":2.4,"y":1.7},{"s":6,"v":2.5,"y":1.9},{"s":6,"v":2.65,"y":2.1},{"s":6,"v":2.8,"y":2.3},{"s":6,"v":2.95,"y":2.5},{"s":6,"v":3.15,"y":2.7},{"s":6,"v":3.35,"y":2.9},{"s":6,"v":3.55,"y":3.1},{"s":6,"v":3.8,"y":3.3},{"s":6,"v":4.05,"y":3.5},{"s":6,"v":4.35,"y":3.7},{"s":6,"v":4.7,"y":3.9},{"s":6,"v":5.05,"y":4.1},{"s":6,"v":5.4,"y":4.3},{"s":6,"v":5.8,"y":4.5},{"s":6,"v":6.2,"y":4.7},{"s":6,"v":6.6,"y":4.9},{"s":6,"v":7.0,"y":5.1}
],
"f":[
{"s":3,"v":7.35,"y":29.9},{"s":4,"v":7.85,"y":29.9},{"s":2,"v":7.6,"y":29.9},{"s":1,"v":8.25,"y":29.9},{"s":5,"v":8.3,"y":29.9},
{"s":3,"v":7.35,"y":29.2},{"s":4,"v":7.85,"y":29.2},{"s":2,"v":7.65,"y":29.2},{"s":1,"v":8.3,"y":29.2},{"s":5,"v":8.3,"y":29.2},
{"s":3,"v":7.35,"y":28.6},{"s":4,"v":7.9,"y":28.6},{"s":2,"v":7.7,"y":28.6},{"s":1,"v":8.3,"y":28.6},{"s":5,"v":8.3,"y":28.6},
{"s":3,"v":7.35,"y":28.0},{"s":4,"v":7.85,"y":28.0},{"s":2,"v":7.75,"y":28.0},{"s":1,"v":8.3,"y":28.0},{"s":5,"v":8.35,"y":28.0},
{"s":3,"v":7.35,"y":27.4},{"s":4,"v":7.85,"y":27.4},{"s":2,"v":7.85,"y":27.4},{"s":1,"v":8.3,"y":27.4},{"s":5,"v":8.35,"y":27.4},
{"s":3,"v":7.35,"y":26.8},{"s":4,"v":7.85,"y":26.8},{"s":2,"v":7.85,"y":26.8},{"s":1,"v":8.3,"y":26.8},{"s":5,"v":8.35,"y":26.8},
{"s":3,"v":7.35,"y":26.1},{"s":4,"v":7.8,"y":26.1},{"s":2,"v":7.85,"y":26.1},{"s":1,"v":8.3,"y":26.1},{"s":5,"v":8.35,"y":26.1},
{"s":3,"v":7.35,"y":25.5},{"s":4,"v":7.8,"y":25.5},{"s":2,"v":7.85,"y":25.5},{"s":1,"v":8.3,"y":25.5},{"s":5,"v":8.35,"y":25.5},
{"s":3,"v":7.35,"y":24.9},{"s":4,"v":7.8,"y":24.9},{"s":2,"v":7.85,"y":24.9},{"s":1,"v":8.3,"y":24.9},{"s":5,"v":8.35,"y":24.9},
{"s":3,"v":7.35,"y":24.3},{"s":4,"v":7.8,"y":24.3},{"s":2,"v":7.85,"y":24.3},{"s":1,"v":8.3,"y":24.3},{"s":5,"v":8.35,"y":24.3},
{"s":3,"v":7.35,"y":23.7},{"s":4,"v":7.7,"y":23.7},{"s":2,"v":7.9,"y":23.7},{"s":1,"v":8.3,"y":23.7},{"s":5,"v":8.35,"y":23.7},
{"s":3,"v":7.35,"y":23.0},{"s":4,"v":7.65,"y":23.0},{"s":2,"v":7.9,"y":23.0},{"s":1,"v":8.3,"y":23.0},{"s":5,"v":8.35,"y":23.0},
{"s":3,"v":7.35,"y":22.4},{"s":4,"v":7.6,"y":22.4},{"s":2,"v":7.95,"y":22.4},{"s":1,"v":8.3,"y":22.4},{"s":5,"v":8.35,"y":22.4},
{"s":3,"v":7.35,"y":21.8},{"s":4,"v":7.6,"y":21.8},{"s":2,"v":7.95,"y":21.8},{"s":1,"v":8.3,"y":21.8},{"s":5,"v":8.3,"y":21.8},
{"s":3,"v":7.35,"y":21.2},{"s":4,"v":7.6,"y":21.2},{"s":2,"v":8.0,"y":21.2},{"s":1,"v":8.3,"y":21.2},{"s":5,"v":8.3,"y":21.2},
{"s":3,"v":7.35,"y":20.6},{"s":4,"v":7.6,"y":20.6},{"s":2,"v":8.0,"y":20.6},{"s":1,"v":8.3,"y":20.6},{"s":5,"v":8.25,"y":20.6},
{"s":3,"v":7.3,"y":19.9},{"s":4,"v":7.6,"y":19.9},{"s":2,"v":8.05,"y":19.9},{"s":1,"v":8.3,"y":19.9},{"s":5,"v":8.25,"y":19.9},
{"s":3,"v":7.3,"y":19.3},{"s":4,"v":7.6,"y":19.3},{"s":2,"v":8.05,"y":19.3},{"s":1,"v":8.3,"y":19.3},{"s":5,"v":8.25,"y":19.3},
{"s":3,"v":7.3,"y":18.7},{"s":4,"v":7.6,"y":18.7},{"s":2,"v":8.1,"y":18.7},{"s":1,"v":8.3,"y":18.7},{"s":5,"v":8.2,"y":18.7},
{"s":3,"v":7.3,"y":18.1},{"s":4,"v":7.6,"y":18.1},{"s":2,"v":8.1,"y":18.1},{"s":1,"v":8.3,"y":18.1},{"s":5,"v":8.2,"y":18.1},
{"s":3,"v":7.3,"y":17.5},{"s":4,"v":7.6,"y":17.5},{"s":2,"v":8.1,"y":17.5},{"s":1,"v":8.3,"y":17.5},{"s":5,"v":8.2,"y":17.5},
{"s":3,"v":7.3,"y":16.8},{"s":4,"v":7.6,"y":16.8},{"s":2,"v":8.1,"y":16.8},{"s":1,"v":8.3,"y":16.8},{"s":5,"v":8.2,"y":16.8},
{"s":3,"v":7.3,"y":16.2},{"s":4,"v":7.55,"y":16.2},{"s":2,"v":8.1,"y":16.2},{"s":1,"v":8.3,"y":16.2},{"s":5,"v":8.15,"y":16.2},
{"s":3,"v":7.3,"y":15.6},{"s":4,"v":7.55,"y":15.6},{"s":2,"v":8.05,"y":15.6},{"s":1,"v":8.25,"y":15.6},{"s":5,"v":8.1,"y":15.6},
{"s":3,"v":7.3,"y":15.0},{"s":4,"v":7.55,"y":15.0},{"s":2,"v":8.0,"y":15.0},{"s":1,"v":8.2,"y":15.0},{"s":5,"v":8.05,"y":15.0},
{"s":3,"v":7.3,"y":14.4},{"s":4,"v":7.55,"y":14.4},{"s":2,"v":8.0,"y":14.4},{"s":1,"v":8.2,"y":14.4},{"s":5,"v":8.0,"y":14.4},
{"s":3,"v":7.25,"y":13.7},{"s":4,"v":7.5,"y":13.7},{"s":2,"v":7.95,"y":13.7},{"s":1,"v":8.15,"y":13.7},{"s":5,"v":8.0,"y":13.7},
{"s":3,"v":7.25,"y":13.1},{"s":4,"v":7.5,"y":13.1},{"s":2,"v":7.95,"y":13.1},{"s":1,"v":8.15,"y":13.1},{"s":5,"v":7.95,"y":13.1},
{"s":3,"v":7.2,"y":12.5},{"s":4,"v":7.45,"y":12.5},{"s":2,"v":7.9,"y":12.5},{"s":1,"v":8.1,"y":12.5},{"s":5,"v":7.9,"y":12.5},
{"s":3,"v":7.05,"y":11.9},{"s":4,"v":7.35,"y":11.9},{"s":2,"v":7.65,"y":11.9},{"s":1,"v":8.0,"y":11.9},{"s":5,"v":7.85,"y":11.9},
{"s":3,"v":6.95,"y":11.3},{"s":4,"v":7.2,"y":11.3},{"s":2,"v":7.55,"y":11.3},{"s":1,"v":7.9,"y":11.3},{"s":5,"v":7.75,"y":11.3},
{"s":3,"v":6.75,"y":10.6},{"s":4,"v":7.0,"y":10.6},{"s":2,"v":7.3,"y":10.6},{"s":1,"v":7.55,"y":10.6},{"s":5,"v":7.45,"y":10.6},
{"s":3,"v":6.4,"y":10.0},{"s":4,"v":6.5,"y":10.0},{"s":2,"v":6.75,"y":10.0},{"s":1,"v":7.15,"y":10.0},{"s":5,"v":6.9,"y":10.0},
{"s":3,"v":5.4,"y":9.4},{"s":4,"v":5.65,"y":9.4},{"s":2,"v":5.9,"y":9.4},{"s":1,"v":6.65,"y":9.4},{"s":5,"v":6.45,"y":9.4},
{"s":3,"v":5.1,"y":8.8},{"s":4,"v":5.3,"y":8.8},{"s":2,"v":5.55,"y":8.8},{"s":1,"v":6.3,"y":8.8},{"s":5,"v":6.1,"y":8.8},
{"s":3,"v":4.5,"y":8.2},{"s":4,"v":4.75,"y":8.2},{"s":2,"v":5.15,"y":8.2},{"s":1,"v":5.35,"y":8.2},{"s":5,"v":5.3,"y":8.2},
{"s":3,"v":3.8,"y":7.5},{"s":4,"v":4.05,"y":7.5},{"s":2,"v":4.75,"y":7.5},{"s":1,"v":4.7,"y":7.5},{"s":5,"v":4.45,"y":7.5},
{"s":3,"v":3.05,"y":6.9},{"s":4,"v":3.15,"y":6.9},{"s":2,"v":4.55,"y":6.9},{"s":1,"v":4.6,"y":6.9},{"s":5,"v":3.7,"y":6.9},
{"s":3,"v":3.0,"y":6.3},{"s":4,"v":2.75,"y":6.3},{"s":2,"v":4.0,"y":6.3},{"s":1,"v":3.85,"y":6.3},{"s":5,"v":3.45,"y":6.3},
{"s":3,"v":2.6,"y":5.7},{"s":4,"v":2.05,"y":5.7},{"s":2,"v":3.25,"y":5.7},{"s":1,"v":2.8,"y":5.7},{"s":5,"v":2.45,"y":5.7},
{"s":3,"v":2.1,"y":5.1},{"s":4,"v":1.5,"y":5.1},{"s":2,"v":2.95,"y":5.1},{"s":1,"v":2.0,"y":5.1},{"s":5,"v":1.9,"y":5.1},
{"s":3,"v":1.85,"y":4.4},{"s":4,"v":1.3,"y":4.4},{"s":2,"v":2.55,"y":4.4},{"s":1,"v":1.2,"y":4.4},{"s":5,"v":1.1,"y":4.4},
{"s":3,"v":1.55,"y":3.8},{"s":4,"v":0.95,"y":3.8},{"s":2,"v":1.95,"y":3.8},{"s":1,"v":0.85,"y":3.8},{"s":5,"v":0.9,"y":3.8},
{"s":3,"v":1.55,"y":3.2},{"s":4,"v":0.7,"y":3.2},{"s":2,"v":1.3,"y":3.2},{"s":1,"v":0.6,"y":3.2},{"s":5,"v":0.65,"y":3.2},
{"s":3,"v":1.25,"y":2.6},{"s":4,"v":0.8,"y":2.6},{"s":2,"v":1.0,"y":2.6},{"s":1,"v":0.6,"y":2.6},{"s":5,"v":0.5,"y":2.6},
{"s":3,"v":1.2,"y":2.0},{"s":4,"v":0.7,"y":2.0},{"s":2,"v":0.95,"y":2.0},{"s":1,"v":0.55,"y":2.0},{"s":5,"v":0.45,"y":2.0},
{"s":3,"v":1.05,"y":1.3},{"s":4,"v":0.6,"y":1.3},{"s":2,"v":0.8,"y":1.3},{"s":1,"v":0.5,"y":1.3},{"s":5,"v":0.4,"y":1.3},
{"s":3,"v":1.05,"y":0.7},{"s":4,"v":0.55,"y":0.7},{"s":2,"v":0.6,"y":0.7},{"s":1,"v":0.4,"y":0.7},{"s":5,"v":0.3,"y":0.7},
{"s":3,"v":0.95,"y":0.1},{"s":4,"v":0.35,"y":0.1},{"s":2,"v":0.4,"y":0.1},{"s":1,"v":0.25,"y":0.1},{"s":5,"v":0.3,"y":0.1}
],
"g":[
{"s":3,"v":6.88,"y":39.5},{"s":4,"v":7.23,"y":39.5},{"s":2,"v":7.3,"y":39.5},{"s":1,"v":7.55,"y":39.5},{"s":5,"v":7.69,"y":39.5},
{"s":3,"v":6.88,"y":38.6},{"s":4,"v":7.26,"y":38.6},{"s":2,"v":7.3,"y":38.6},{"s":1,"v":7.55,"y":38.6},{"s":5,"v":7.65,"y":38.6},
{"s":3,"v":6.88,"y":37.8},{"s":4,"v":7.23,"y":37.8},{"s":2,"v":7.3,"y":37.8},{"s":1,"v":7.5,"y":37.8},{"s":5,"v":7.63,"y":37.8},
{"s":3,"v":6.9,"y":37.0},{"s":4,"v":7.23,"y":37.0},{"s":2,"v":7.25,"y":37.0},{"s":1,"v":7.45,"y":37.0},{"s":5,"v":7.56,"y":37.0},
{"s":3,"v":7.0,"y":36.2},{"s":4,"v":7.23,"y":36.2},{"s":2,"v":7.25,"y":36.2},{"s":1,"v":7.45,"y":36.2},{"s":5,"v":7.56,"y":36.2},
{"s":3,"v":7.0,"y":35.4},{"s":4,"v":7.2,"y":35.4},{"s":2,"v":7.25,"y":35.4},{"s":1,"v":7.4,"y":35.4},{"s":5,"v":7.56,"y":35.4},
{"s":3,"v":6.95,"y":34.5},{"s":4,"v":7.0,"y":34.5},{"s":2,"v":7.2,"y":34.5},{"s":1,"v":7.4,"y":34.5},{"s":5,"v":7.56,"y":34.5},
{"s":3,"v":6.95,"y":33.7},{"s":4,"v":6.95,"y":33.7},{"s":2,"v":7.15,"y":33.7},{"s":1,"v":7.35,"y":33.7},{"s":5,"v":7.5,"y":33.7},
{"s":3,"v":6.9,"y":32.9},{"s":4,"v":6.76,"y":32.9},{"s":2,"v":7.0,"y":32.9},{"s":1,"v":7.25,"y":32.9},{"s":5,"v":7.3,"y":32.9},
{"s":3,"v":7.0,"y":32.1},{"s":4,"v":6.76,"y":32.1},{"s":2,"v":7.1,"y":32.1},{"s":1,"v":7.25,"y":32.1},{"s":5,"v":7.38,"y":32.1},
{"s":3,"v":6.95,"y":31.3},{"s":4,"v":6.7,"y":31.3},{"s":2,"v":7.0,"y":31.3},{"s":1,"v":7.2,"y":31.3},{"s":5,"v":7.26,"y":31.3},
{"s":3,"v":6.9,"y":30.4},{"s":4,"v":6.65,"y":30.4},{"s":2,"v":7.0,"y":30.4},{"s":1,"v":7.15,"y":30.4},{"s":5,"v":7.26,"y":30.4},
{"s":3,"v":6.9,"y":29.6},{"s":4,"v":6.6,"y":29.6},{"s":2,"v":6.95,"y":29.6},{"s":1,"v":7.1,"y":29.6},{"s":5,"v":7.1,"y":29.6},
{"s":3,"v":6.85,"y":28.8},{"s":4,"v":6.5,"y":28.8},{"s":2,"v":6.9,"y":28.8},{"s":1,"v":7.0,"y":28.8},{"s":5,"v":7.05,"y":28.8},
{"s":3,"v":6.8,"y":28.0},{"s":4,"v":6.45,"y":28.0},{"s":2,"v":6.85,"y":28.0},{"s":1,"v":6.95,"y":28.0},{"s":5,"v":6.98,"y":28.0},
{"s":3,"v":6.75,"y":27.2},{"s":4,"v":6.45,"y":27.2},{"s":2,"v":6.8,"y":27.2},{"s":1,"v":6.95,"y":27.2},{"s":5,"v":6.75,"y":27.2},
{"s":3,"v":6.7,"y":26.3},{"s":4,"v":6.4,"y":26.3},{"s":2,"v":6.75,"y":26.3},{"s":1,"v":6.95,"y":26.3},{"s":5,"v":6.7,"y":26.3},
{"s":3,"v":6.6,"y":25.5},{"s":4,"v":6.33,"y":25.5},{"s":2,"v":6.7,"y":25.5},{"s":1,"v":6.88,"y":25.5},{"s":5,"v":6.58,"y":25.5},
{"s":3,"v":6.55,"y":24.7},{"s":4,"v":6.27,"y":24.7},{"s":2,"v":6.65,"y":24.7},{"s":1,"v":6.8,"y":24.7},{"s":5,"v":6.52,"y":24.7},
{"s":3,"v":6.5,"y":23.9},{"s":4,"v":6.2,"y":23.9},{"s":2,"v":6.6,"y":23.9},{"s":1,"v":6.8,"y":23.9},{"s":5,"v":6.52,"y":23.9},
{"s":3,"v":6.5,"y":23.1},{"s":4,"v":6.14,"y":23.1},{"s":2,"v":6.6,"y":23.1},{"s":1,"v":6.75,"y":23.1},{"s":5,"v":6.45,"y":23.1},
{"s":3,"v":6.45,"y":22.2},{"s":4,"v":6.08,"y":22.2},{"s":2,"v":6.55,"y":22.2},{"s":1,"v":6.7,"y":22.2},{"s":5,"v":6.4,"y":22.2},
{"s":3,"v":6.4,"y":21.4},{"s":4,"v":5.9,"y":21.4},{"s":2,"v":6.5,"y":21.4},{"s":1,"v":6.6,"y":21.4},{"s":5,"v":6.27,"y":21.4},
{"s":3,"v":6.35,"y":20.6},{"s":4,"v":5.75,"y":20.6},{"s":2,"v":6.45,"y":20.6},{"s":1,"v":6.51,"y":20.6},{"s":5,"v":6.14,"y":20.6},
{"s":3,"v":6.3,"y":19.8},{"s":4,"v":5.71,"y":19.8},{"s":2,"v":6.45,"y":19.8},{"s":1,"v":6.4,"y":19.8},{"s":5,"v":6.08,"y":19.8},
{"s":3,"v":6.3,"y":19.0},{"s":4,"v":5.59,"y":19.0},{"s":2,"v":6.51,"y":19.0},{"s":1,"v":6.14,"y":19.0},{"s":5,"v":5.9,"y":19.0},
{"s":3,"v":6.25,"y":18.1},{"s":4,"v":5.3,"y":18.1},{"s":2,"v":6.45,"y":18.1},{"s":1,"v":6.0,"y":18.1},{"s":5,"v":5.65,"y":18.1},
{"s":3,"v":6.2,"y":17.3},{"s":4,"v":5.4,"y":17.3},{"s":2,"v":6.1,"y":17.3},{"s":1,"v":5.95,"y":17.3},{"s":5,"v":5.65,"y":17.3},
{"s":3,"v":6.15,"y":16.5},{"s":4,"v":5.15,"y":16.5},{"s":2,"v":6.0,"y":16.5},{"s":1,"v":5.65,"y":16.5},{"s":5,"v":5.34,"y":16.5},
{"s":3,"v":6.0,"y":15.7},{"s":4,"v":5.0,"y":15.7},{"s":2,"v":6.0,"y":15.7},{"s":1,"v":5.85,"y":15.7},{"s":5,"v":5.28,"y":15.7},
{"s":3,"v":5.6,"y":14.9},{"s":4,"v":5.1,"y":14.9},{"s":2,"v":5.6,"y":14.9},{"s":1,"v":5.2,"y":14.9},{"s":5,"v":5.03,"y":14.9},
{"s":3,"v":5.5,"y":14.0},{"s":4,"v":4.9,"y":14.0},{"s":2,"v":5.5,"y":14.0},{"s":1,"v":5.0,"y":14.0},{"s":5,"v":4.78,"y":14.0},
{"s":3,"v":5.15,"y":13.2},{"s":4,"v":4.78,"y":13.2},{"s":2,"v":5.1,"y":13.2},{"s":1,"v":4.5,"y":13.2},{"s":5,"v":4.41,"y":13.2},
{"s":3,"v":5.0,"y":12.4},{"s":4,"v":4.6,"y":12.4},{"s":2,"v":5.0,"y":12.4},{"s":1,"v":4.3,"y":12.4},{"s":5,"v":4.23,"y":12.4},
{"s":3,"v":5.05,"y":11.6},{"s":4,"v":4.4,"y":11.6},{"s":2,"v":4.8,"y":11.6},{"s":1,"v":4.1,"y":11.6},{"s":5,"v":4.04,"y":11.6},
{"s":3,"v":5.1,"y":10.7},{"s":4,"v":4.05,"y":10.7},{"s":2,"v":4.6,"y":10.7},{"s":1,"v":3.85,"y":10.7},{"s":5,"v":3.73,"y":10.7},
{"s":3,"v":4.9,"y":9.9},{"s":4,"v":4.0,"y":9.9},{"s":2,"v":4.4,"y":9.9},{"s":1,"v":3.7,"y":9.9},{"s":5,"v":3.6,"y":9.9},
{"s":3,"v":4.7,"y":9.1},{"s":4,"v":3.8,"y":9.1},{"s":2,"v":4.15,"y":9.1},{"s":1,"v":3.5,"y":9.1},{"s":5,"v":3.42,"y":9.1},
{"s":3,"v":4.55,"y":8.3},{"s":4,"v":3.6,"y":8.3},{"s":2,"v":3.95,"y":8.3},{"s":1,"v":3.35,"y":8.3},{"s":5,"v":3.18,"y":8.3},
{"s":3,"v":4.4,"y":7.5},{"s":4,"v":3.6,"y":7.5},{"s":2,"v":3.75,"y":7.5},{"s":1,"v":3.25,"y":7.5},{"s":5,"v":3.18,"y":7.5},
{"s":3,"v":4.2,"y":6.7},{"s":4,"v":3.55,"y":6.7},{"s":2,"v":3.8,"y":6.7},{"s":1,"v":3.2,"y":6.7},{"s":5,"v":3.12,"y":6.7},
{"s":3,"v":4.05,"y":5.8},{"s":4,"v":3.4,"y":5.8},{"s":2,"v":3.2,"y":5.8},{"s":1,"v":3.0,"y":5.8},{"s":5,"v":2.99,"y":5.8},
{"s":3,"v":4.05,"y":5.0},{"s":4,"v":3.3,"y":5.0},{"s":2,"v":3.1,"y":5.0},{"s":1,"v":2.95,"y":5.0},{"s":5,"v":2.93,"y":5.0},
{"s":3,"v":3.9,"y":4.2},{"s":4,"v":3.3,"y":4.2},{"s":2,"v":3.0,"y":4.2},{"s":1,"v":2.9,"y":4.2},{"s":5,"v":2.93,"y":4.2},
{"s":3,"v":3.7,"y":3.4},{"s":4,"v":3.0,"y":3.4},{"s":2,"v":2.85,"y":3.4},{"s":1,"v":2.75,"y":3.4},{"s":5,"v":2.8,"y":3.4},
{"s":3,"v":3.25,"y":2.6},{"s":4,"v":2.9,"y":2.6},{"s":2,"v":2.5,"y":2.6},{"s":1,"v":2.8,"y":2.6},{"s":5,"v":2.93,"y":2.6},
{"s":3,"v":2.8,"y":1.7},{"s":4,"v":2.7,"y":1.7},{"s":2,"v":2.5,"y":1.7},{"s":1,"v":2.55,"y":1.7},{"s":5,"v":2.68,"y":1.7},
{"s":3,"v":2.4,"y":0.9},{"s":4,"v":2.3,"y":0.9},{"s":2,"v":2.2,"y":0.9},{"s":1,"v":2.05,"y":0.9},{"s":5,"v":2.55,"y":0.9},
{"s":3,"v":2.13,"y":0.1},{"s":4,"v":1.69,"y":0.1},{"s":2,"v":1.95,"y":0.1},{"s":1,"v":2.0,"y":0.1},{"s":5,"v":1.8,"y":0.1}
],
"h":[
{"s":3,"v":6.96,"y":50.1},{"s":4,"v":7.15,"y":50.1},{"s":2,"v":7.2,"y":50.1},{"s":1,"v":7.45,"y":50.1},{"s":5,"v":7.48,"y":50.1},
{"s":3,"v":6.96,"y":49.1},{"s":4,"v":7.15,"y":49.1},{"s":2,"v":7.2,"y":49.1},{"s":1,"v":7.45,"y":49.1},{"s":5,"v":7.48,"y":49.1},
{"s":3,"v":6.96,"y":48.1},{"s":4,"v":7.18,"y":48.1},{"s":2,"v":7.2,"y":48.1},{"s":1,"v":7.45,"y":48.1},{"s":5,"v":7.48,"y":48.1},
{"s":3,"v":6.93,"y":47.0},{"s":4,"v":7.18,"y":47.0},{"s":2,"v":7.2,"y":47.0},{"s":1,"v":7.45,"y":47.0},{"s":5,"v":7.5,"y":47.0},
{"s":3,"v":6.9,"y":46.0},{"s":4,"v":7.18,"y":46.0},{"s":2,"v":7.2,"y":46.0},{"s":1,"v":7.45,"y":46.0},{"s":5,"v":7.48,"y":46.0},
{"s":3,"v":6.9,"y":45.0},{"s":4,"v":7.15,"y":45.0},{"s":2,"v":7.2,"y":45.0},{"s":1,"v":7.45,"y":45.0},{"s":5,"v":7.48,"y":45.0},
{"s":3,"v":6.85,"y":44.0},{"s":4,"v":7.1,"y":44.0},{"s":2,"v":7.15,"y":44.0},{"s":1,"v":7.45,"y":44.0},{"s":5,"v":7.48,"y":44.0},
{"s":3,"v":6.85,"y":43.0},{"s":4,"v":7.05,"y":43.0},{"s":2,"v":7.12,"y":43.0},{"s":1,"v":7.42,"y":43.0},{"s":5,"v":7.45,"y":43.0},
{"s":3,"v":6.85,"y":41.9},{"s":4,"v":7.05,"y":41.9},{"s":2,"v":7.21,"y":41.9},{"s":1,"v":7.42,"y":41.9},{"s":5,"v":7.45,"y":41.9},
{"s":3,"v":6.76,"y":40.9},{"s":4,"v":7.01,"y":40.9},{"s":2,"v":7.23,"y":40.9},{"s":1,"v":7.45,"y":40.9},{"s":5,"v":7.4,"y":40.9},
{"s":3,"v":6.8,"y":39.9},{"s":4,"v":7.07,"y":39.9},{"s":2,"v":7.2,"y":39.9},{"s":1,"v":7.45,"y":39.9},{"s":5,"v":7.45,"y":39.9},
{"s":3,"v":6.8,"y":38.9},{"s":4,"v":7.05,"y":38.9},{"s":2,"v":7.2,"y":38.9},{"s":1,"v":7.45,"y":38.9},{"s":5,"v":7.48,"y":38.9},
{"s":3,"v":6.85,"y":37.9},{"s":4,"v":6.85,"y":37.9},{"s":2,"v":7.09,"y":37.9},{"s":1,"v":7.3,"y":37.9},{"s":5,"v":7.34,"y":37.9},
{"s":3,"v":6.9,"y":36.8},{"s":4,"v":6.9,"y":36.8},{"s":2,"v":7.12,"y":36.8},{"s":1,"v":7.4,"y":36.8},{"s":5,"v":7.45,"y":36.8},
{"s":3,"v":6.85,"y":35.8},{"s":4,"v":6.85,"y":35.8},{"s":2,"v":7.3,"y":35.8},{"s":1,"v":7.5,"y":35.8},{"s":5,"v":7.5,"y":35.8},
{"s":3,"v":6.9,"y":34.8},{"s":4,"v":6.9,"y":34.8},{"s":2,"v":7.3,"y":34.8},{"s":1,"v":7.5,"y":34.8},{"s":5,"v":7.5,"y":34.8},
{"s":3,"v":6.9,"y":33.8},{"s":4,"v":6.9,"y":33.8},{"s":2,"v":7.3,"y":33.8},{"s":1,"v":7.45,"y":33.8},{"s":5,"v":7.45,"y":33.8},
{"s":3,"v":6.9,"y":32.7},{"s":4,"v":6.9,"y":32.7},{"s":2,"v":7.28,"y":32.7},{"s":1,"v":7.55,"y":32.7},{"s":5,"v":7.5,"y":32.7},
{"s":3,"v":6.85,"y":31.7},{"s":4,"v":6.85,"y":31.7},{"s":2,"v":7.3,"y":31.7},{"s":1,"v":7.48,"y":31.7},{"s":5,"v":7.48,"y":31.7},
{"s":3,"v":6.85,"y":30.7},{"s":4,"v":6.85,"y":30.7},{"s":2,"v":7.3,"y":30.7},{"s":1,"v":7.48,"y":30.7},{"s":5,"v":7.48,"y":30.7},
{"s":3,"v":6.8,"y":29.7},{"s":4,"v":6.8,"y":29.7},{"s":2,"v":7.3,"y":29.7},{"s":1,"v":7.39,"y":29.7},{"s":5,"v":7.18,"y":29.7},
{"s":3,"v":6.63,"y":28.7},{"s":4,"v":6.63,"y":28.7},{"s":2,"v":7.18,"y":28.7},{"s":1,"v":7.2,"y":28.7},{"s":5,"v":7.18,"y":28.7},
{"s":3,"v":6.36,"y":27.6},{"s":4,"v":6.4,"y":27.6},{"s":2,"v":6.85,"y":27.6},{"s":1,"v":6.8,"y":27.6},{"s":5,"v":6.69,"y":27.6},
{"s":3,"v":6.2,"y":26.6},{"s":4,"v":6.25,"y":26.6},{"s":2,"v":6.85,"y":26.6},{"s":1,"v":6.8,"y":26.6},{"s":5,"v":6.69,"y":26.6},
{"s":3,"v":6.0,"y":25.6},{"s":4,"v":5.99,"y":25.6},{"s":2,"v":6.63,"y":25.6},{"s":1,"v":6.42,"y":25.6},{"s":5,"v":6.26,"y":25.6},
{"s":3,"v":5.8,"y":24.6},{"s":4,"v":5.7,"y":24.6},{"s":2,"v":6.15,"y":24.6},{"s":1,"v":5.75,"y":24.6},{"s":5,"v":5.66,"y":24.6},
{"s":3,"v":5.7,"y":23.6},{"s":4,"v":5.6,"y":23.6},{"s":2,"v":5.93,"y":23.6},{"s":1,"v":5.55,"y":23.6},{"s":5,"v":5.45,"y":23.6},
{"s":3,"v":5.4,"y":22.5},{"s":4,"v":5.3,"y":22.5},{"s":2,"v":5.66,"y":22.5},{"s":1,"v":5.23,"y":22.5},{"s":5,"v":4.9,"y":22.5},
{"s":3,"v":5.3,"y":21.5},{"s":4,"v":5.25,"y":21.5},{"s":2,"v":5.5,"y":21.5},{"s":1,"v":5.15,"y":21.5},{"s":5,"v":5.0,"y":21.5},
{"s":3,"v":5.25,"y":20.5},{"s":4,"v":5.2,"y":20.5},{"s":2,"v":5.39,"y":20.5},{"s":1,"v":5.17,"y":20.5},{"s":5,"v":4.9,"y":20.5},
{"s":3,"v":5.2,"y":19.5},{"s":4,"v":5.17,"y":19.5},{"s":2,"v":5.39,"y":19.5},{"s":1,"v":5.01,"y":19.5},{"s":5,"v":4.8,"y":19.5},
{"s":3,"v":5.34,"y":18.4},{"s":4,"v":5.1,"y":18.4},{"s":2,"v":5.1,"y":18.4},{"s":1,"v":4.96,"y":18.4},{"s":5,"v":4.69,"y":18.4},
{"s":3,"v":4.9,"y":17.4},{"s":4,"v":5.17,"y":17.4},{"s":2,"v":4.9,"y":17.4},{"s":1,"v":4.69,"y":17.4},{"s":5,"v":4.47,"y":17.4},
{"s":3,"v":5.07,"y":16.4},{"s":4,"v":4.75,"y":16.4},{"s":2,"v":4.7,"y":16.4},{"s":1,"v":4.69,"y":16.4},{"s":5,"v":4.47,"y":16.4},
{"s":3,"v":4.9,"y":15.4},{"s":4,"v":4.9,"y":15.4},{"s":2,"v":4.52,"y":15.4},{"s":1,"v":4.4,"y":15.4},{"s":5,"v":4.3,"y":15.4},
{"s":3,"v":4.58,"y":14.4},{"s":4,"v":4.31,"y":14.4},{"s":2,"v":4.25,"y":14.4},{"s":1,"v":4.2,"y":14.4},{"s":5,"v":4.09,"y":14.4},
{"s":3,"v":4.69,"y":13.3},{"s":4,"v":4.36,"y":13.3},{"s":2,"v":4.1,"y":13.3},{"s":1,"v":4.04,"y":13.3},{"s":5,"v":3.77,"y":13.3},
{"s":3,"v":4.2,"y":12.3},{"s":4,"v":4.36,"y":12.3},{"s":2,"v":3.77,"y":12.3},{"s":1,"v":3.95,"y":12.3},{"s":5,"v":3.93,"y":12.3},
{"s":3,"v":4.15,"y":11.3},{"s":4,"v":4.47,"y":11.3},{"s":2,"v":3.9,"y":11.3},{"s":1,"v":3.85,"y":11.3},{"s":5,"v":3.77,"y":11.3},
{"s":3,"v":4.0,"y":10.3},{"s":4,"v":4.15,"y":10.3},{"s":2,"v":3.8,"y":10.3},{"s":1,"v":3.75,"y":10.3},{"s":5,"v":3.71,"y":10.3},
{"s":3,"v":3.6,"y":9.2},{"s":4,"v":3.82,"y":9.2},{"s":2,"v":3.5,"y":9.2},{"s":1,"v":3.4,"y":9.2},{"s":5,"v":3.28,"y":9.2},
{"s":3,"v":3.66,"y":8.2},{"s":4,"v":3.93,"y":8.2},{"s":2,"v":3.3,"y":8.2},{"s":1,"v":3.33,"y":8.2},{"s":5,"v":3.06,"y":8.2},
{"s":3,"v":2.8,"y":7.2},{"s":4,"v":3.66,"y":7.2},{"s":2,"v":2.72,"y":7.2},{"s":1,"v":3.14,"y":7.2},{"s":5,"v":3.2,"y":7.2},
{"s":3,"v":2.7,"y":6.2},{"s":4,"v":3.4,"y":6.2},{"s":2,"v":2.62,"y":6.2},{"s":1,"v":3.14,"y":6.2},{"s":5,"v":3.2,"y":6.2},
{"s":3,"v":2.78,"y":5.2},{"s":4,"v":3.45,"y":5.2},{"s":2,"v":2.85,"y":5.2},{"s":1,"v":2.9,"y":5.2},{"s":5,"v":2.98,"y":5.2},
{"s":3,"v":2.46,"y":4.1},{"s":4,"v":2.9,"y":4.1},{"s":2,"v":2.6,"y":4.1},{"s":1,"v":2.78,"y":4.1},{"s":5,"v":3.09,"y":4.1},
{"s":3,"v":2.24,"y":3.1},{"s":4,"v":2.45,"y":3.1},{"s":2,"v":2.5,"y":3.1},{"s":1,"v":2.6,"y":3.1},{"s":5,"v":2.87,"y":3.1},
{"s":3,"v":1.93,"y":2.1},{"s":4,"v":2.1,"y":2.1},{"s":2,"v":2.2,"y":2.1},{"s":1,"v":2.3,"y":2.1},{"s":5,"v":2.51,"y":2.1},
{"s":3,"v":0.9,"y":1.1},{"s":4,"v":1.2,"y":1.1},{"s":2,"v":1.05,"y":1.1},{"s":1,"v":1.15,"y":1.1},{"s":5,"v":1.3,"y":1.1},
{"s":3,"v":1.4,"y":0.1},{"s":4,"v":1.6,"y":0.1},{"s":2,"v":2.0,"y":0.1},{"s":1,"v":1.75,"y":0.1},{"s":5,"v":1.9,"y":0.1}
]
},
"concat":[
{"width":217,"height":632,"data":{"name":"a"},
 "layer":[
  {"mark":{"type":"point","stroke":"black","strokeWidth":2.2,"size":34,"opacity":1,"clip":true},
   "encoding":{
    "x":{"field":"v","type":"quantitative","scale":{"domain":[0,7.78],"nice":false,"zero":false},"axis":{"orient":"bottom","values":[0,2,4,6],"title":"V(m/s)","tickSize":-12,"tickWidth":2,"labelPadding":13,"titleY":30,"titleBaseline":"middle"}},
    "y":{"field":"y","type":"quantitative","scale":{"domain":[0.1,10.2],"nice":false,"zero":false},"axis":{"orient":"left","values":[1,2,3,4,5,6,7,8,9,10],"title":"y(mm)","tickSize":-12,"tickWidth":2,"labelPadding":15,"titleX":-38,"titleBaseline":"middle"}},
    "shape":{"field":"s","type":"nominal","scale":{"domain":[1,2,3,4,5],"range":["square","triangle-up","triangle-down","diamond","circle"]},"legend":null},
    "fill":{"field":"s","type":"nominal","scale":{"domain":[1,2,3,4,5],"range":["white","black","black","white","white"]},"legend":null}
   }},
  {"data":{"values":[{}]},
   "mark":{"type":"text","align":"left","baseline":"middle","fontSize":20,"font":"Liberation Sans","color":"black"},
   "encoding":{
    "x":{"datum":0.29,"type":"quantitative","scale":{"domain":[0,7.78],"nice":false,"zero":false},"axis":{"orient":"bottom","values":[0.5,1,1.5,2.5,3,3.5,4.5,5,5.5,6.5,7,7.5],"labels":false,"title":null,"tickSize":-6,"tickWidth":1.5}},
    "y":{"datum":9.42,"type":"quantitative","scale":{"domain":[0.1,10.2],"nice":false,"zero":false},"axis":{"orient":"left","values":[0.2,0.4,0.6,0.8,1.2,1.4,1.6,1.8,2.2,2.4,2.6,2.8,3.2,3.4,3.6,3.8,4.2,4.4,4.6,4.8,5.2,5.4,5.6,5.8,6.2,6.4,6.6,6.8,7.2,7.4,7.6,7.8,8.2,8.4,8.6,8.8,9.2,9.4,9.6,9.8,10.2],"labels":false,"title":null,"tickSize":-6,"tickWidth":1.5}},
    "text":{"value":"(a)\u00a0\u00a0\u00a0s/s\u2092=0.402"}
   }},
  {"data":{"name":"lg"},"transform":[{"filter":"datum.s < 6"}],
   "mark":{"type":"point","stroke":"black","strokeWidth":2.2,"size":34,"opacity":1},
   "encoding":{
    "x":{"datum":1.22,"type":"quantitative","scale":{"domain":[0,7.78],"nice":false,"zero":false},"axis":null},
    "y":{"field":"s","type":"quantitative","scale":{"domain":[-5.28,22.2],"reverse":true,"nice":false,"zero":false},"axis":null},
    "shape":{"field":"s","type":"nominal","legend":null},
    "fill":{"field":"s","type":"nominal","legend":null}
   }},
  {"data":{"name":"lg"},"transform":[{"filter":"datum.s < 6"}],
   "mark":{"type":"text","align":"left","baseline":"middle","dx":56,"fontSize":19,"font":"Liberation Sans","color":"black"},
   "encoding":{
    "x":{"datum":1.22,"type":"quantitative","scale":{"domain":[0,7.78],"nice":false,"zero":false},"axis":null},
    "y":{"field":"s","type":"quantitative","scale":{"domain":[-5.28,22.2],"reverse":true,"nice":false,"zero":false},"axis":null},
    "text":{"field":"t"}
   }}
 ],
 "resolve":{"scale":{"y":"independent"},"axis":{"x":"independent","y":"independent"}}
},
{"width":217,"height":632,"data":{"name":"b"},
 "layer":[
  {"mark":{"type":"point","stroke":"black","strokeWidth":2.2,"size":34,"opacity":1,"clip":true},
   "encoding":{
    "x":{"field":"v","type":"quantitative","scale":{"domain":[0,8.9],"nice":false,"zero":false},"axis":{"orient":"bottom","values":[0,2,4,6,8],"title":"V(m/s)","tickSize":-12,"tickWidth":2,"labelPadding":13,"titleY":30,"titleBaseline":"middle"}},
    "y":{"field":"y","type":"quantitative","scale":{"domain":[0.1,10.2],"nice":false,"zero":false},"axis":{"orient":"left","values":[1,2,3,4,5,6,7,8,9,10],"title":"y(mm)","tickSize":-12,"tickWidth":2,"labelPadding":15,"titleX":-33,"titleBaseline":"middle"}},
    "shape":{"field":"s","type":"nominal","scale":{"domain":[1,2,3,4,5],"range":["square","triangle-up","triangle-down","diamond","circle"]},"legend":null},
    "fill":{"field":"s","type":"nominal","scale":{"domain":[1,2,3,4,5],"range":["white","black","black","white","white"]},"legend":null}
   }},
  {"data":{"values":[{}]},
   "mark":{"type":"text","align":"left","baseline":"middle","fontSize":20,"font":"Liberation Sans","color":"black"},
   "encoding":{
    "x":{"datum":0.2,"type":"quantitative","scale":{"domain":[0,8.9],"nice":false,"zero":false},"axis":{"orient":"bottom","values":[0.5,1,1.5,2.5,3,3.5,4.5,5,5.5,6.5,7,7.5,8.5],"labels":false,"title":null,"tickSize":-6,"tickWidth":1.5}},
    "y":{"datum":9.42,"type":"quantitative","scale":{"domain":[0.1,10.2],"nice":false,"zero":false},"axis":{"orient":"left","values":[0.2,0.4,0.6,0.8,1.2,1.4,1.6,1.8,2.2,2.4,2.6,2.8,3.2,3.4,3.6,3.8,4.2,4.4,4.6,4.8,5.2,5.4,5.6,5.8,6.2,6.4,6.6,6.8,7.2,7.4,7.6,7.8,8.2,8.4,8.6,8.8,9.2,9.4,9.6,9.8,10.2],"labels":false,"title":null,"tickSize":-6,"tickWidth":1.5}},
    "text":{"value":"(b)\u00a0\u00a0\u00a0s/s\u2092=0.52"}
   }},
  {"data":{"name":"lg"},"transform":[{"filter":"datum.s < 6"}],
   "mark":{"type":"point","stroke":"black","strokeWidth":2.2,"size":34,"opacity":1},
   "encoding":{
    "x":{"datum":1.39,"type":"quantitative","scale":{"domain":[0,8.9],"nice":false,"zero":false},"axis":null},
    "y":{"field":"s","type":"quantitative","scale":{"domain":[-5.28,22.2],"reverse":true,"nice":false,"zero":false},"axis":null},
    "shape":{"field":"s","type":"nominal","legend":null},
    "fill":{"field":"s","type":"nominal","legend":null}
   }},
  {"data":{"name":"lg"},"transform":[{"filter":"datum.s < 6"}],
   "mark":{"type":"text","align":"left","baseline":"middle","dx":56,"fontSize":19,"font":"Liberation Sans","color":"black"},
   "encoding":{
    "x":{"datum":1.39,"type":"quantitative","scale":{"domain":[0,8.9],"nice":false,"zero":false},"axis":null},
    "y":{"field":"s","type":"quantitative","scale":{"domain":[-5.28,22.2],"reverse":true,"nice":false,"zero":false},"axis":null},
    "text":{"field":"t"}
   }}
 ],
 "resolve":{"scale":{"y":"independent"},"axis":{"x":"independent","y":"independent"}}
},
{"width":217,"height":632,"data":{"name":"c"},
 "layer":[
  {"mark":{"type":"point","stroke":"black","strokeWidth":2.2,"size":34,"opacity":1,"clip":true},
   "encoding":{
    "x":{"field":"v","type":"quantitative","scale":{"domain":[0,8.85],"nice":false,"zero":false},"axis":{"orient":"bottom","values":[0,2,4,6,8],"title":"V(m/s)","tickSize":-12,"tickWidth":2,"labelPadding":13,"titleY":30,"titleBaseline":"middle"}},
    "y":{"field":"y","type":"quantitative","scale":{"domain":[0.1,10.2],"nice":false,"zero":false},"axis":{"orient":"left","values":[1,2,3,4,5,6,7,8,9,10],"title":"y(mm)","tickSize":-12,"tickWidth":2,"labelPadding":15,"titleX":-33,"titleBaseline":"middle"}},
    "shape":{"field":"s","type":"nominal","scale":{"domain":[1,2,3,4,5],"range":["square","triangle-up","triangle-down","diamond","circle"]},"legend":null},
    "fill":{"field":"s","type":"nominal","scale":{"domain":[1,2,3,4,5],"range":["white","black","black","white","white"]},"legend":null}
   }},
  {"data":{"values":[{}]},
   "mark":{"type":"text","align":"left","baseline":"middle","fontSize":20,"font":"Liberation Sans","color":"black"},
   "encoding":{
    "x":{"datum":0.2,"type":"quantitative","scale":{"domain":[0,8.85],"nice":false,"zero":false},"axis":{"orient":"bottom","values":[0.5,1,1.5,2.5,3,3.5,4.5,5,5.5,6.5,7,7.5,8.5],"labels":false,"title":null,"tickSize":-6,"tickWidth":1.5}},
    "y":{"datum":9.42,"type":"quantitative","scale":{"domain":[0.1,10.2],"nice":false,"zero":false},"axis":{"orient":"left","values":[0.2,0.4,0.6,0.8,1.2,1.4,1.6,1.8,2.2,2.4,2.6,2.8,3.2,3.4,3.6,3.8,4.2,4.4,4.6,4.8,5.2,5.4,5.6,5.8,6.2,6.4,6.6,6.8,7.2,7.4,7.6,7.8,8.2,8.4,8.6,8.8,9.2,9.4,9.6,9.8,10.2],"labels":false,"title":null,"tickSize":-6,"tickWidth":1.5}},
    "text":{"value":"(c)\u00a0\u00a0\u00a0s/s\u2092=0.588"}
   }},
  {"data":{"name":"lg"},"transform":[{"filter":"datum.s < 6"}],
   "mark":{"type":"point","stroke":"black","strokeWidth":2.2,"size":34,"opacity":1},
   "encoding":{
    "x":{"datum":1.39,"type":"quantitative","scale":{"domain":[0,8.85],"nice":false,"zero":false},"axis":null},
    "y":{"field":"s","type":"quantitative","scale":{"domain":[-5.28,22.2],"reverse":true,"nice":false,"zero":false},"axis":null},
    "shape":{"field":"s","type":"nominal","legend":null},
    "fill":{"field":"s","type":"nominal","legend":null}
   }},
  {"data":{"name":"lg"},"transform":[{"filter":"datum.s < 6"}],
   "mark":{"type":"text","align":"left","baseline":"middle","dx":56,"fontSize":19,"font":"Liberation Sans","color":"black"},
   "encoding":{
    "x":{"datum":1.39,"type":"quantitative","scale":{"domain":[0,8.85],"nice":false,"zero":false},"axis":null},
    "y":{"field":"s","type":"quantitative","scale":{"domain":[-5.28,22.2],"reverse":true,"nice":false,"zero":false},"axis":null},
    "text":{"field":"t"}
   }}
 ],
 "resolve":{"scale":{"y":"independent"},"axis":{"x":"independent","y":"independent"}}
},
{"width":217,"height":632,"data":{"name":"d"},
 "layer":[
  {"mark":{"type":"point","stroke":"black","strokeWidth":2.2,"size":34,"opacity":1,"clip":true},
   "encoding":{
    "x":{"field":"v","type":"quantitative","scale":{"domain":[0,8.9],"nice":false,"zero":false},"axis":{"orient":"bottom","values":[0,2,4,6,8],"title":"V(m/s)","tickSize":-12,"tickWidth":2,"labelPadding":13,"titleY":30,"titleBaseline":"middle"}},
    "y":{"field":"y","type":"quantitative","scale":{"domain":[0.1,15.2],"nice":false,"zero":false},"axis":{"orient":"left","values":[2,4,6,8,10,12,14],"title":"y(mm)","tickSize":-12,"tickWidth":2,"labelPadding":15,"titleX":-33,"titleBaseline":"middle"}},
    "shape":{"field":"s","type":"nominal","scale":{"domain":[1,2,3,4,5],"range":["square","triangle-up","triangle-down","diamond","circle"]},"legend":null},
    "fill":{"field":"s","type":"nominal","scale":{"domain":[1,2,3,4,5],"range":["white","black","black","white","white"]},"legend":null}
   }},
  {"data":{"values":[{}]},
   "mark":{"type":"text","align":"left","baseline":"middle","fontSize":20,"font":"Liberation Sans","color":"black"},
   "encoding":{
    "x":{"datum":0.57,"type":"quantitative","scale":{"domain":[0,8.9],"nice":false,"zero":false},"axis":{"orient":"bottom","values":[0.5,1,1.5,2.5,3,3.5,4.5,5,5.5,6.5,7,7.5,8.5],"labels":false,"title":null,"tickSize":-6,"tickWidth":1.5}},
    "y":{"datum":14.03,"type":"quantitative","scale":{"domain":[0.1,15.2],"nice":false,"zero":false},"axis":{"orient":"left","values":[0.4,0.8,1.2,1.6,2.4,2.8,3.2,3.6,4.4,4.8,5.2,5.6,6.4,6.8,7.2,7.6,8.4,8.8,9.2,9.6,10.4,10.8,11.2,11.6,12.4,12.8,13.2,13.6,14.4,14.8],"labels":false,"title":null,"tickSize":-6,"tickWidth":1.5}},
    "text":{"value":"(d)\u00a0\u00a0\u00a0s/s\u2092=0.651"}
   }},
  {"data":{"name":"lg"},"transform":[{"filter":"datum.s < 6"}],
   "mark":{"type":"point","stroke":"black","strokeWidth":2.2,"size":34,"opacity":1},
   "encoding":{
    "x":{"datum":1.39,"type":"quantitative","scale":{"domain":[0,8.9],"nice":false,"zero":false},"axis":null},
    "y":{"field":"s","type":"quantitative","scale":{"domain":[-5.28,22.2],"reverse":true,"nice":false,"zero":false},"axis":null},
    "shape":{"field":"s","type":"nominal","legend":null},
    "fill":{"field":"s","type":"nominal","legend":null}
   }},
  {"data":{"name":"lg"},"transform":[{"filter":"datum.s < 6"}],
   "mark":{"type":"text","align":"left","baseline":"middle","dx":56,"fontSize":19,"font":"Liberation Sans","color":"black"},
   "encoding":{
    "x":{"datum":1.39,"type":"quantitative","scale":{"domain":[0,8.9],"nice":false,"zero":false},"axis":null},
    "y":{"field":"s","type":"quantitative","scale":{"domain":[-5.28,22.2],"reverse":true,"nice":false,"zero":false},"axis":null},
    "text":{"field":"t"}
   }}
 ],
 "resolve":{"scale":{"y":"independent"},"axis":{"x":"independent","y":"independent"}}
},
{"width":217,"height":632,"data":{"name":"e"},
 "layer":[
  {"mark":{"type":"point","stroke":"black","strokeWidth":2.2,"opacity":1,"clip":true},
   "encoding":{
    "x":{"field":"v","type":"quantitative","scale":{"domain":[0,9.0],"nice":false,"zero":false},"axis":{"orient":"bottom","values":[0,2,4,6,8],"title":"V(m/s)","tickSize":-12,"tickWidth":2,"labelPadding":13,"titleY":30,"titleBaseline":"middle"}},
    "y":{"field":"y","type":"quantitative","scale":{"domain":[0,15.25],"nice":false,"zero":false},"axis":{"orient":"left","values":[2,4,6,8,10,12,14],"title":"y(mm)","tickSize":-12,"tickWidth":2,"labelPadding":15,"titleX":-38,"titleBaseline":"middle"}},
    "shape":{"field":"s","type":"nominal","scale":{"domain":[1,2,3,4,5,6],"range":["square","triangle-up","triangle-down","diamond","circle","circle"]},"legend":null},
    "fill":{"field":"s","type":"nominal","scale":{"domain":[1,2,3,4,5,6],"range":["white","black","black","white","white","black"]},"legend":null},
    "size":{"field":"s","type":"nominal","scale":{"domain":[1,2,3,4,5,6],"range":[34,34,34,34,34,8]},"legend":null}
   }},
  {"data":{"values":[{}]},
   "mark":{"type":"text","align":"left","baseline":"middle","fontSize":20,"font":"Liberation Sans","color":"black"},
   "encoding":{
    "x":{"datum":0.58,"type":"quantitative","scale":{"domain":[0,9.0],"nice":false,"zero":false},"axis":{"orient":"bottom","values":[0.5,1,1.5,2.5,3,3.5,4.5,5,5.5,6.5,7,7.5,8.5],"labels":false,"title":null,"tickSize":-6,"tickWidth":1.5}},
    "y":{"datum":14.0,"type":"quantitative","scale":{"domain":[0,15.25],"nice":false,"zero":false},"axis":{"orient":"left","values":[0.4,0.8,1.2,1.6,2.4,2.8,3.2,3.6,4.4,4.8,5.2,5.6,6.4,6.8,7.2,7.6,8.4,8.8,9.2,9.6,10.4,10.8,11.2,11.6,12.4,12.8,13.2,13.6,14.4,14.8],"labels":false,"title":null,"tickSize":-6,"tickWidth":1.5}},
    "text":{"value":"(e)\u00a0\u00a0\u00a0s/s\u2092=0.674"}
   }},
  {"data":{"name":"lg"},
   "mark":{"type":"point","stroke":"black","strokeWidth":2.2,"opacity":1},
   "encoding":{
    "x":{"datum":1.41,"type":"quantitative","scale":{"domain":[0,9.0],"nice":false,"zero":false},"axis":null},
    "y":{"field":"s","type":"quantitative","scale":{"domain":[-5.39,22.09],"reverse":true,"nice":false,"zero":false},"axis":null},
    "shape":{"field":"s","type":"nominal","legend":null},
    "fill":{"field":"s","type":"nominal","legend":null},
    "size":{"field":"s","type":"nominal","legend":null}
   }},
  {"data":{"name":"lg"},
   "mark":{"type":"text","align":"left","baseline":"middle","dx":56,"fontSize":19,"font":"Liberation Sans","color":"black"},
   "encoding":{
    "x":{"datum":1.41,"type":"quantitative","scale":{"domain":[0,9.0],"nice":false,"zero":false},"axis":null},
    "y":{"field":"s","type":"quantitative","scale":{"domain":[-5.39,22.09],"reverse":true,"nice":false,"zero":false},"axis":null},
    "text":{"field":"t"}
   }}
 ],
 "resolve":{"scale":{"y":"independent"},"axis":{"x":"independent","y":"independent"}}
},
{"width":217,"height":632,"data":{"name":"f"},
 "layer":[
  {"mark":{"type":"point","stroke":"black","strokeWidth":2.2,"size":34,"opacity":1,"clip":true},
   "encoding":{
    "x":{"field":"v","type":"quantitative","scale":{"domain":[0.2,8.7],"nice":false,"zero":false},"axis":{"orient":"bottom","values":[2,4,6,8],"title":"V(m/s)","tickSize":-12,"tickWidth":2,"labelPadding":13,"titleY":30,"titleBaseline":"middle"}},
    "y":{"field":"y","type":"quantitative","scale":{"domain":[0.1,30.2],"nice":false,"zero":false},"axis":{"orient":"left","values":[5,10,15,20,25,30],"title":"y(mm)","tickSize":-12,"tickWidth":2,"labelPadding":15,"titleX":-33,"titleBaseline":"middle"}},
    "shape":{"field":"s","type":"nominal","scale":{"domain":[1,2,3,4,5],"range":["square","triangle-up","triangle-down","diamond","circle"]},"legend":null},
    "fill":{"field":"s","type":"nominal","scale":{"domain":[1,2,3,4,5],"range":["white","black","black","white","white"]},"legend":null}
   }},
  {"data":{"values":[{}]},
   "mark":{"type":"text","align":"left","baseline":"middle","fontSize":20,"font":"Liberation Sans","color":"black"},
   "encoding":{
    "x":{"datum":0.4,"type":"quantitative","scale":{"domain":[0.2,8.7],"nice":false,"zero":false},"axis":{"orient":"bottom","values":[0.5,1,1.5,2.5,3,3.5,4.5,5,5.5,6.5,7,7.5,8.5],"labels":false,"title":null,"tickSize":-6,"tickWidth":1.5}},
    "y":{"datum":27.7,"type":"quantitative","scale":{"domain":[0.1,30.2],"nice":false,"zero":false},"axis":{"orient":"left","values":[1,2,3,4,6,7,8,9,11,12,13,14,16,17,18,19,21,22,23,24,26,27,28,29],"labels":false,"title":null,"tickSize":-6,"tickWidth":1.5}},
    "text":{"value":"(f)\u00a0\u00a0\u00a0s/s\u2092=0.705"}
   }},
  {"data":{"name":"lg"},"transform":[{"filter":"datum.s < 6"}],
   "mark":{"type":"point","stroke":"black","strokeWidth":2.2,"size":34,"opacity":1},
   "encoding":{
    "x":{"datum":1.53,"type":"quantitative","scale":{"domain":[0.2,8.7],"nice":false,"zero":false},"axis":null},
    "y":{"field":"s","type":"quantitative","scale":{"domain":[-5.39,22.09],"reverse":true,"nice":false,"zero":false},"axis":null},
    "shape":{"field":"s","type":"nominal","legend":null},
    "fill":{"field":"s","type":"nominal","legend":null}
   }},
  {"data":{"name":"lg"},"transform":[{"filter":"datum.s < 6"}],
   "mark":{"type":"text","align":"left","baseline":"middle","dx":56,"fontSize":19,"font":"Liberation Sans","color":"black"},
   "encoding":{
    "x":{"datum":1.53,"type":"quantitative","scale":{"domain":[0.2,8.7],"nice":false,"zero":false},"axis":null},
    "y":{"field":"s","type":"quantitative","scale":{"domain":[-5.39,22.09],"reverse":true,"nice":false,"zero":false},"axis":null},
    "text":{"field":"t"}
   }}
 ],
 "resolve":{"scale":{"y":"independent"},"axis":{"x":"independent","y":"independent"}}
},
{"width":217,"height":632,"data":{"name":"g"},
 "layer":[
  {"mark":{"type":"point","stroke":"black","strokeWidth":2.2,"size":34,"opacity":1,"clip":true},
   "encoding":{
    "x":{"field":"v","type":"quantitative","scale":{"domain":[0,8.1],"nice":false,"zero":false},"axis":{"orient":"bottom","values":[0,2,4,6,8],"title":"V(m/s)","tickSize":-12,"tickWidth":2,"labelPadding":13,"titleY":30,"titleBaseline":"middle"}},
    "y":{"field":"y","type":"quantitative","scale":{"domain":[0.1,40.2],"nice":false,"zero":false},"axis":{"orient":"left","values":[5,10,15,20,25,30,35,40],"title":"y(mm)","tickSize":-12,"tickWidth":2,"labelPadding":15,"titleX":-33,"titleBaseline":"middle"}},
    "shape":{"field":"s","type":"nominal","scale":{"domain":[1,2,3,4,5],"range":["square","triangle-up","triangle-down","diamond","circle"]},"legend":null},
    "fill":{"field":"s","type":"nominal","scale":{"domain":[1,2,3,4,5],"range":["white","black","black","white","white"]},"legend":null}
   }},
  {"data":{"values":[{}]},
   "mark":{"type":"text","align":"left","baseline":"middle","fontSize":20,"font":"Liberation Sans","color":"black"},
   "encoding":{
    "x":{"datum":0.2,"type":"quantitative","scale":{"domain":[0,8.1],"nice":false,"zero":false},"axis":{"orient":"bottom","values":[0.5,1,1.5,2.5,3,3.5,4.5,5,5.5,6.5,7,7.5],"labels":false,"title":null,"tickSize":-6,"tickWidth":1.5}},
    "y":{"datum":36.8,"type":"quantitative","scale":{"domain":[0.1,40.2],"nice":false,"zero":false},"axis":{"orient":"left","values":[1,2,3,4,6,7,8,9,11,12,13,14,16,17,18,19,21,22,23,24,26,27,28,29,31,32,33,34,36,37,38,39],"labels":false,"title":null,"tickSize":-6,"tickWidth":1.5}},
    "text":{"value":"(g)\u00a0\u00a0\u00a0s/s\u2092=0.849"}
   }},
  {"data":{"name":"lg"},"transform":[{"filter":"datum.s < 6"}],
   "mark":{"type":"point","stroke":"black","strokeWidth":2.2,"size":34,"opacity":1},
   "encoding":{
    "x":{"datum":1.27,"type":"quantitative","scale":{"domain":[0,8.1],"nice":false,"zero":false},"axis":null},
    "y":{"field":"s","type":"quantitative","scale":{"domain":[-5.39,22.09],"reverse":true,"nice":false,"zero":false},"axis":null},
    "shape":{"field":"s","type":"nominal","legend":null},
    "fill":{"field":"s","type":"nominal","legend":null}
   }},
  {"data":{"name":"lg"},"transform":[{"filter":"datum.s < 6"}],
   "mark":{"type":"text","align":"left","baseline":"middle","dx":56,"fontSize":19,"font":"Liberation Sans","color":"black"},
   "encoding":{
    "x":{"datum":1.27,"type":"quantitative","scale":{"domain":[0,8.1],"nice":false,"zero":false},"axis":null},
    "y":{"field":"s","type":"quantitative","scale":{"domain":[-5.39,22.09],"reverse":true,"nice":false,"zero":false},"axis":null},
    "text":{"field":"t"}
   }}
 ],
 "resolve":{"scale":{"y":"independent"},"axis":{"x":"independent","y":"independent"}}
},
{"width":217,"height":632,"data":{"name":"h"},
 "layer":[
  {"mark":{"type":"point","stroke":"black","strokeWidth":2.2,"size":34,"opacity":1,"clip":true},
   "encoding":{
    "x":{"field":"v","type":"quantitative","scale":{"domain":[0.95,7.7],"nice":false,"zero":false},"axis":{"orient":"bottom","values":[2,4,6],"title":"V(m/s)","tickSize":-12,"tickWidth":2,"labelPadding":13,"titleY":30,"titleBaseline":"middle"}},
    "y":{"field":"y","type":"quantitative","scale":{"domain":[0.1,50.3],"nice":false,"zero":false},"axis":{"orient":"left","values":[5,10,15,20,25,30,35,40,45,50],"title":"y(mm)","tickSize":-12,"tickWidth":2,"labelPadding":15,"titleX":-33,"titleBaseline":"middle"}},
    "shape":{"field":"s","type":"nominal","scale":{"domain":[1,2,3,4,5],"range":["square","triangle-up","triangle-down","diamond","circle"]},"legend":null},
    "fill":{"field":"s","type":"nominal","scale":{"domain":[1,2,3,4,5],"range":["white","black","black","white","white"]},"legend":null}
   }},
  {"data":{"values":[{}]},
   "mark":{"type":"text","align":"left","baseline":"middle","fontSize":20,"font":"Liberation Sans","color":"black"},
   "encoding":{
    "x":{"datum":1.2,"type":"quantitative","scale":{"domain":[0.95,7.7],"nice":false,"zero":false},"axis":{"orient":"bottom","values":[1,1.5,2.5,3,3.5,4.5,5,5.5,6.5,7,7.5],"labels":false,"title":null,"tickSize":-6,"tickWidth":1.5}},
    "y":{"datum":46.1,"type":"quantitative","scale":{"domain":[0.1,50.3],"nice":false,"zero":false},"axis":{"orient":"left","values":[1,2,3,4,6,7,8,9,11,12,13,14,16,17,18,19,21,22,23,24,26,27,28,29,31,32,33,34,36,37,38,39,41,42,43,44,46,47,48,49],"labels":false,"title":null,"tickSize":-6,"tickWidth":1.5}},
    "text":{"value":"(h)\u00a0\u00a0\u00a0s/s\u2092=0.898"}
   }},
  {"data":{"name":"lg"},"transform":[{"filter":"datum.s < 6"}],
   "mark":{"type":"point","stroke":"black","strokeWidth":2.2,"size":34,"opacity":1},
   "encoding":{
    "x":{"datum":2.01,"type":"quantitative","scale":{"domain":[0.95,7.7],"nice":false,"zero":false},"axis":null},
    "y":{"field":"s","type":"quantitative","scale":{"domain":[-5.39,22.09],"reverse":true,"nice":false,"zero":false},"axis":null},
    "shape":{"field":"s","type":"nominal","legend":null},
    "fill":{"field":"s","type":"nominal","legend":null}
   }},
  {"data":{"name":"lg"},"transform":[{"filter":"datum.s < 6"}],
   "mark":{"type":"text","align":"left","baseline":"middle","dx":56,"fontSize":19,"font":"Liberation Sans","color":"black"},
   "encoding":{
    "x":{"datum":2.01,"type":"quantitative","scale":{"domain":[0.95,7.7],"nice":false,"zero":false},"axis":null},
    "y":{"field":"s","type":"quantitative","scale":{"domain":[-5.39,22.09],"reverse":true,"nice":false,"zero":false},"axis":null},
    "text":{"field":"t"}
   }}
 ],
 "resolve":{"scale":{"y":"independent"},"axis":{"x":"independent","y":"independent"}}
}
]
}
